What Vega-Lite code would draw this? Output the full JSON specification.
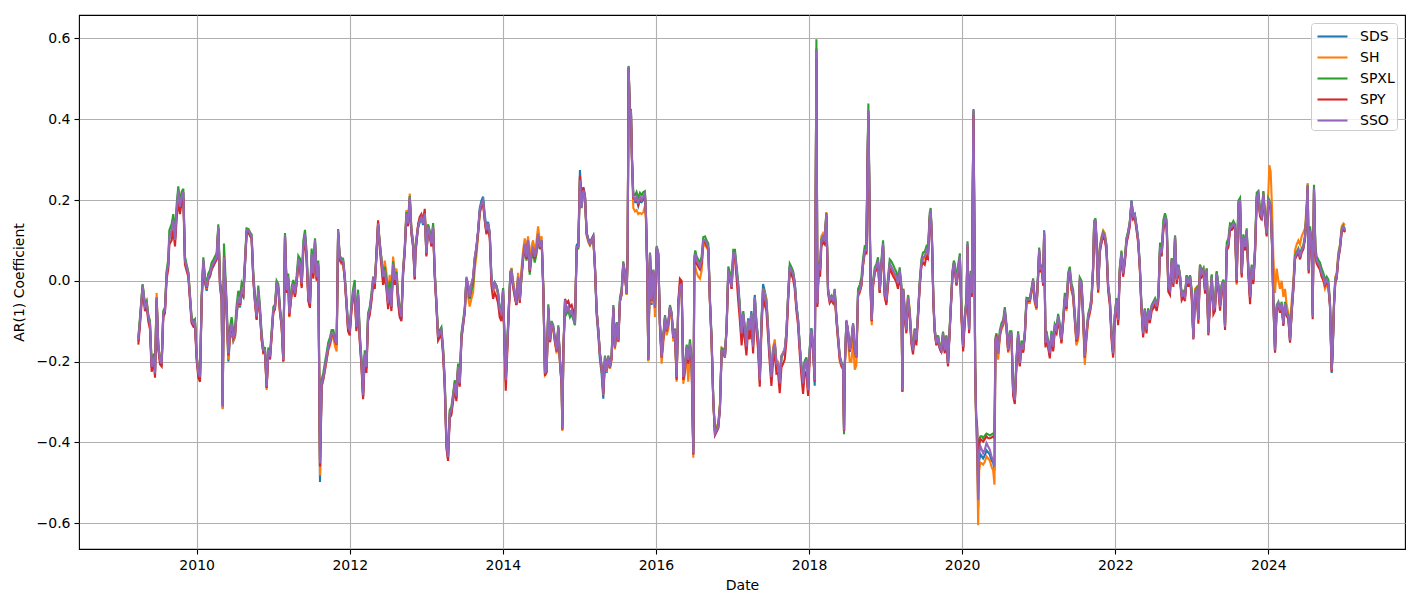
{
  "$schema": "https://vega.github.io/schema/vega-lite/v6.json",
  "width": 1326,
  "height": 534,
  "autosize": {"type": "none"},
  "padding": {"left": 79, "top": 15, "right": 15, "bottom": 60},
  "background": "#ffffff",
  "config": {
    "font": "DejaVu Sans",
    "view": {"stroke": "#000000", "strokeWidth": 1.1},
    "axis": {
      "labelFont": "DejaVu Sans", "labelFontSize": 14, "labelColor": "#000000",
      "titleFont": "DejaVu Sans", "titleFontSize": 14, "titleColor": "#000000", "titleFontWeight": "normal",
      "tickColor": "#000000", "tickSize": 5, "tickWidth": 1.1,
      "gridColor": "#b0b0b0", "gridWidth": 1.1, "domain": false, "labelPadding": 4
    },
    "legend": {
      "labelFont": "DejaVu Sans", "labelFontSize": 14, "labelColor": "#000000",
      "strokeColor": "#cccccc", "fillColor": "rgba(255,255,255,0.8)", "cornerRadius": 3,
      "padding": 2, "offset": 8, "symbolType": "M-1.5,0L1.5,0", "symbolSize": 400,
      "symbolStrokeWidth": 2.1, "symbolOffset": 8, "labelOffset": 16, "rowPadding": 2
    }
  },
  "data": {"values": [
{"t":2009.238,"SDS":-0.15,"SH":-0.145,"SPXL":-0.14,"SPY":-0.158,"SSO":-0.147},
{"t":2009.26,"SDS":-0.1,"SH":-0.095,"SPXL":-0.09,"SPY":-0.11,"SSO":-0.097},
{"t":2009.294,"SDS":-0.013,"SH":-0.01,"SPXL":-0.008,"SPY":-0.02,"SSO":-0.011},
{"t":2009.325,"SDS":-0.066,"SH":-0.06,"SPXL":-0.058,"SPY":-0.075,"SSO":-0.064},
{"t":2009.347,"SDS":-0.058,"SH":-0.05,"SPXL":-0.05,"SPY":-0.065,"SSO":-0.056},
{"t":2009.368,"SDS":-0.09,"SH":-0.085,"SPXL":-0.084,"SPY":-0.1,"SSO":-0.089},
{"t":2009.39,"SDS":-0.11,"SH":-0.1,"SPXL":-0.1,"SPY":-0.12,"SSO":-0.106},
{"t":2009.412,"SDS":-0.215,"SH":-0.21,"SPXL":-0.205,"SPY":-0.225,"SSO":-0.213},
{"t":2009.442,"SDS":-0.19,"SH":-0.185,"SPXL":-0.18,"SPY":-0.2,"SSO":-0.188},
{"t":2009.456,"SDS":-0.23,"SH":-0.225,"SPXL":-0.222,"SPY":-0.24,"SSO":-0.229},
{"t":2009.477,"SDS":-0.045,"SH":-0.03,"SPXL":-0.042,"SPY":-0.05,"SSO":-0.04},
{"t":2009.499,"SDS":-0.165,"SH":-0.158,"SPXL":-0.16,"SPY":-0.17,"SSO":-0.163},
{"t":2009.521,"SDS":-0.198,"SH":-0.19,"SPXL":-0.195,"SPY":-0.207,"SSO":-0.196},
{"t":2009.543,"SDS":-0.207,"SH":-0.2,"SPXL":-0.203,"SPY":-0.212,"SSO":-0.205},
{"t":2009.564,"SDS":-0.083,"SH":-0.08,"SPXL":-0.075,"SPY":-0.09,"SSO":-0.081},
{"t":2009.586,"SDS":-0.075,"SH":-0.07,"SPXL":-0.065,"SPY":-0.08,"SSO":-0.073},
{"t":2009.608,"SDS":0.015,"SH":0.02,"SPXL":0.025,"SPY":0.005,"SSO":0.018},
{"t":2009.63,"SDS":0.04,"SH":0.045,"SPXL":0.055,"SPY":0.03,"SSO":0.043},
{"t":2009.643,"SDS":0.105,"SH":0.11,"SPXL":0.125,"SPY":0.09,"SSO":0.109},
{"t":2009.673,"SDS":0.12,"SH":0.125,"SPXL":0.14,"SPY":0.1,"SSO":0.125},
{"t":2009.695,"SDS":0.145,"SH":0.15,"SPXL":0.165,"SPY":0.125,"SSO":0.15},
{"t":2009.717,"SDS":0.1,"SH":0.105,"SPXL":0.115,"SPY":0.085,"SSO":0.101},
{"t":2009.739,"SDS":0.17,"SH":0.175,"SPXL":0.19,"SPY":0.155,"SSO":0.175},
{"t":2009.76,"SDS":0.22,"SH":0.225,"SPXL":0.234,"SPY":0.2,"SSO":0.224},
{"t":2009.782,"SDS":0.18,"SH":0.185,"SPXL":0.195,"SPY":0.165,"SSO":0.183},
{"t":2009.804,"SDS":0.205,"SH":0.21,"SPXL":0.22,"SPY":0.195,"SSO":0.208},
{"t":2009.826,"SDS":0.215,"SH":0.22,"SPXL":0.228,"SPY":0.205,"SSO":0.22},
{"t":2009.847,"SDS":0.05,"SH":0.055,"SPXL":0.06,"SPY":0.04,"SSO":0.051},
{"t":2009.869,"SDS":0.033,"SH":0.038,"SPXL":0.04,"SPY":0.025,"SSO":0.035},
{"t":2009.891,"SDS":0.015,"SH":0.02,"SPXL":0.022,"SPY":0.01,"SSO":0.018},
{"t":2009.913,"SDS":-0.042,"SH":-0.038,"SPXL":-0.035,"SPY":-0.05,"SSO":-0.04},
{"t":2009.934,"SDS":-0.1,"SH":-0.095,"SPXL":-0.09,"SPY":-0.105,"SSO":-0.097},
{"t":2009.956,"SDS":-0.108,"SH":-0.104,"SPXL":-0.1,"SPY":-0.113,"SSO":-0.106},
{"t":2009.978,"SDS":-0.103,"SH":-0.1,"SPXL":-0.095,"SPY":-0.11,"SSO":-0.101},
{"t":2010.0,"SDS":-0.19,"SH":-0.186,"SPXL":-0.183,"SPY":-0.198,"SSO":-0.188},
{"t":2010.022,"SDS":-0.23,"SH":-0.227,"SPXL":-0.225,"SPY":-0.24,"SSO":-0.229},
{"t":2010.044,"SDS":-0.24,"SH":-0.236,"SPXL":-0.234,"SPY":-0.25,"SSO":-0.238},
{"t":2010.065,"SDS":-0.05,"SH":-0.046,"SPXL":-0.04,"SPY":-0.055,"SSO":-0.048},
{"t":2010.087,"SDS":0.048,"SH":0.05,"SPXL":0.058,"SPY":0.045,"SSO":0.051},
{"t":2010.109,"SDS":-0.005,"SH":0.0,"SPXL":0.01,"SPY":-0.003,"SSO":0.002},
{"t":2010.131,"SDS":-0.025,"SH":-0.02,"SPXL":-0.005,"SPY":-0.018,"SSO":-0.015},
{"t":2010.152,"SDS":0.003,"SH":0.005,"SPXL":0.018,"SPY":0.006,"SSO":0.01},
{"t":2010.174,"SDS":0.01,"SH":0.014,"SPXL":0.026,"SPY":0.014,"SSO":0.018},
{"t":2010.196,"SDS":0.028,"SH":0.03,"SPXL":0.045,"SPY":0.03,"SSO":0.035},
{"t":2010.218,"SDS":0.036,"SH":0.04,"SPXL":0.052,"SPY":0.038,"SSO":0.043},
{"t":2010.239,"SDS":0.045,"SH":0.048,"SPXL":0.06,"SPY":0.045,"SSO":0.051},
{"t":2010.261,"SDS":0.052,"SH":0.055,"SPXL":0.068,"SPY":0.054,"SSO":0.059},
{"t":2010.283,"SDS":0.13,"SH":0.132,"SPXL":0.14,"SPY":0.128,"SSO":0.134},
{"t":2010.305,"SDS":-0.015,"SH":-0.012,"SPXL":0.005,"SPY":-0.01,"SSO":-0.007},
{"t":2010.327,"SDS":-0.05,"SH":-0.045,"SPXL":-0.03,"SPY":-0.043,"SSO":-0.04},
{"t":2010.34,"SDS":-0.316,"SH":-0.318,"SPXL":-0.305,"SPY":-0.31,"SSO":-0.312},
{"t":2010.357,"SDS":0.05,"SH":0.052,"SPXL":0.092,"SPY":0.06,"SSO":0.059},
{"t":2010.383,"SDS":-0.04,"SH":-0.038,"SPXL":-0.015,"SPY":-0.033,"SSO":-0.031},
{"t":2010.414,"SDS":-0.2,"SH":-0.195,"SPXL":-0.17,"SPY":-0.185,"SSO":-0.18},
{"t":2010.435,"SDS":-0.145,"SH":-0.14,"SPXL":-0.115,"SPY":-0.133,"SSO":-0.13},
{"t":2010.457,"SDS":-0.12,"SH":-0.115,"SPXL":-0.09,"SPY":-0.11,"SSO":-0.106},
{"t":2010.479,"SDS":-0.15,"SH":-0.147,"SPXL":-0.125,"SPY":-0.142,"SSO":-0.139},
{"t":2010.501,"SDS":-0.14,"SH":-0.138,"SPXL":-0.115,"SPY":-0.133,"SSO":-0.13},
{"t":2010.522,"SDS":-0.085,"SH":-0.08,"SPXL":-0.06,"SPY":-0.077,"SSO":-0.073},
{"t":2010.544,"SDS":-0.05,"SH":-0.047,"SPXL":-0.025,"SPY":-0.043,"SSO":-0.04},
{"t":2010.566,"SDS":-0.066,"SH":-0.062,"SPXL":-0.04,"SPY":-0.06,"SSO":-0.056},
{"t":2010.588,"SDS":-0.032,"SH":-0.03,"SPXL":-0.005,"SPY":-0.027,"SSO":-0.023},
{"t":2010.61,"SDS":-0.04,"SH":-0.036,"SPXL":-0.015,"SPY":-0.035,"SSO":-0.031},
{"t":2010.631,"SDS":0.035,"SH":0.04,"SPXL":0.055,"SPY":0.04,"SSO":0.043},
{"t":2010.653,"SDS":0.12,"SH":0.128,"SPXL":0.13,"SPY":0.12,"SSO":0.125},
{"t":2010.675,"SDS":0.12,"SH":0.128,"SPXL":0.128,"SPY":0.12,"SSO":0.125},
{"t":2010.697,"SDS":0.112,"SH":0.12,"SPXL":0.12,"SPY":0.112,"SSO":0.117},
{"t":2010.718,"SDS":0.105,"SH":0.11,"SPXL":0.115,"SPY":0.103,"SSO":0.109},
{"t":2010.74,"SDS":0.005,"SH":0.01,"SPXL":0.02,"SPY":0.003,"SSO":0.01},
{"t":2010.762,"SDS":-0.052,"SH":-0.05,"SPXL":-0.035,"SPY":-0.055,"SSO":-0.048},
{"t":2010.784,"SDS":-0.095,"SH":-0.093,"SPXL":-0.08,"SPY":-0.097,"SSO":-0.089},
{"t":2010.805,"SDS":-0.028,"SH":-0.025,"SPXL":-0.012,"SPY":-0.03,"SSO":-0.023},
{"t":2010.827,"SDS":-0.078,"SH":-0.076,"SPXL":-0.063,"SPY":-0.082,"SSO":-0.073},
{"t":2010.849,"SDS":-0.145,"SH":-0.142,"SPXL":-0.13,"SPY":-0.147,"SSO":-0.139},
{"t":2010.871,"SDS":-0.177,"SH":-0.18,"SPXL":-0.165,"SPY":-0.178,"SSO":-0.172},
{"t":2010.893,"SDS":-0.176,"SH":-0.178,"SPXL":-0.166,"SPY":-0.178,"SSO":-0.172},
{"t":2010.914,"SDS":-0.265,"SH":-0.27,"SPXL":-0.255,"SPY":-0.265,"SSO":-0.262},
{"t":2010.936,"SDS":-0.175,"SH":-0.178,"SPXL":-0.165,"SPY":-0.178,"SSO":-0.172},
{"t":2010.958,"SDS":-0.19,"SH":-0.195,"SPXL":-0.18,"SPY":-0.194,"SSO":-0.188},
{"t":2010.98,"SDS":-0.133,"SH":-0.135,"SPXL":-0.122,"SPY":-0.137,"SSO":-0.13},
{"t":2011.001,"SDS":-0.076,"SH":-0.078,"SPXL":-0.065,"SPY":-0.08,"SSO":-0.073},
{"t":2011.023,"SDS":-0.067,"SH":-0.07,"SPXL":-0.058,"SPY":-0.07,"SSO":-0.064},
{"t":2011.045,"SDS":-0.01,"SH":-0.012,"SPXL":0.0,"SPY":-0.013,"SSO":-0.007},
{"t":2011.067,"SDS":-0.018,"SH":-0.02,"SPXL":-0.008,"SPY":-0.022,"SSO":-0.015},
{"t":2011.089,"SDS":-0.076,"SH":-0.08,"SPXL":-0.066,"SPY":-0.08,"SSO":-0.073},
{"t":2011.11,"SDS":-0.11,"SH":-0.112,"SPXL":-0.1,"SPY":-0.113,"SSO":-0.106},
{"t":2011.132,"SDS":-0.198,"SH":-0.2,"SPXL":-0.19,"SPY":-0.2,"SSO":-0.196},
{"t":2011.154,"SDS":0.11,"SH":0.108,"SPXL":0.118,"SPY":0.11,"SSO":0.113},
{"t":2011.176,"SDS":-0.027,"SH":-0.03,"SPXL":-0.015,"SPY":-0.03,"SSO":-0.023},
{"t":2011.197,"SDS":0.006,"SH":0.003,"SPXL":0.018,"SPY":0.003,"SSO":0.01},
{"t":2011.21,"SDS":-0.085,"SH":-0.09,"SPXL":-0.072,"SPY":-0.088,"SSO":-0.081},
{"t":2011.241,"SDS":-0.027,"SH":-0.03,"SPXL":-0.014,"SPY":-0.032,"SSO":-0.023},
{"t":2011.263,"SDS":-0.011,"SH":-0.015,"SPXL":0.002,"SPY":-0.016,"SSO":-0.007},
{"t":2011.284,"SDS":-0.035,"SH":-0.04,"SPXL":-0.022,"SPY":-0.04,"SSO":-0.031},
{"t":2011.306,"SDS":-0.002,"SH":-0.005,"SPXL":0.012,"SPY":-0.007,"SSO":0.002},
{"t":2011.328,"SDS":0.047,"SH":0.045,"SPXL":0.062,"SPY":0.04,"SSO":0.051},
{"t":2011.35,"SDS":0.04,"SH":0.036,"SPXL":0.055,"SPY":0.033,"SSO":0.043},
{"t":2011.372,"SDS":-0.01,"SH":-0.014,"SPXL":0.005,"SPY":-0.018,"SSO":-0.007},
{"t":2011.393,"SDS":0.08,"SH":0.078,"SPXL":0.098,"SPY":0.073,"SSO":0.084},
{"t":2011.415,"SDS":0.113,"SH":0.11,"SPXL":0.126,"SPY":0.105,"SSO":0.117},
{"t":2011.437,"SDS":0.055,"SH":0.052,"SPXL":0.072,"SPY":0.047,"SSO":0.059},
{"t":2011.459,"SDS":-0.044,"SH":-0.048,"SPXL":-0.028,"SPY":-0.05,"SSO":-0.04},
{"t":2011.48,"SDS":-0.06,"SH":-0.065,"SPXL":-0.045,"SPY":-0.067,"SSO":-0.056},
{"t":2011.502,"SDS":0.064,"SH":0.06,"SPXL":0.08,"SPY":0.055,"SSO":0.068},
{"t":2011.524,"SDS":0.014,"SH":0.01,"SPXL":0.03,"SPY":0.005,"SSO":0.018},
{"t":2011.546,"SDS":0.097,"SH":0.093,"SPXL":0.105,"SPY":0.09,"SSO":0.101},
{"t":2011.567,"SDS":0.006,"SH":0.003,"SPXL":0.02,"SPY":0.0,"SSO":0.01},
{"t":2011.589,"SDS":0.04,"SH":0.036,"SPXL":0.05,"SPY":0.035,"SSO":0.043},
{"t":2011.611,"SDS":-0.498,"SH":-0.482,"SPXL":-0.44,"SPY":-0.46,"SSO":-0.452},
{"t":2011.633,"SDS":-0.262,"SH":-0.26,"SPXL":-0.245,"SPY":-0.258,"SSO":-0.254},
{"t":2011.654,"SDS":-0.245,"SH":-0.243,"SPXL":-0.228,"SPY":-0.242,"SSO":-0.238},
{"t":2011.676,"SDS":-0.22,"SH":-0.222,"SPXL":-0.203,"SPY":-0.217,"SSO":-0.213},
{"t":2011.698,"SDS":-0.194,"SH":-0.197,"SPXL":-0.178,"SPY":-0.192,"SSO":-0.188},
{"t":2011.72,"SDS":-0.168,"SH":-0.172,"SPXL":-0.152,"SPY":-0.167,"SSO":-0.163},
{"t":2011.742,"SDS":-0.156,"SH":-0.16,"SPXL":-0.14,"SPY":-0.155,"SSO":-0.151},
{"t":2011.763,"SDS":-0.135,"SH":-0.14,"SPXL":-0.122,"SPY":-0.134,"SSO":-0.13},
{"t":2011.785,"SDS":-0.135,"SH":-0.142,"SPXL":-0.122,"SPY":-0.134,"SSO":-0.13},
{"t":2011.807,"SDS":-0.152,"SH":-0.162,"SPXL":-0.14,"SPY":-0.15,"SSO":-0.147},
{"t":2011.829,"SDS":-0.16,"SH":-0.175,"SPXL":-0.148,"SPY":-0.158,"SSO":-0.155},
{"t":2011.848,"SDS":0.12,"SH":0.12,"SPXL":0.128,"SPY":0.118,"SSO":0.125},
{"t":2011.869,"SDS":0.055,"SH":0.05,"SPXL":0.062,"SPY":0.052,"SSO":0.059},
{"t":2011.891,"SDS":0.047,"SH":0.042,"SPXL":0.056,"SPY":0.045,"SSO":0.051},
{"t":2011.913,"SDS":0.047,"SH":0.045,"SPXL":0.055,"SPY":0.044,"SSO":0.051},
{"t":2011.935,"SDS":0.005,"SH":0.003,"SPXL":0.014,"SPY":0.002,"SSO":0.01},
{"t":2011.956,"SDS":-0.052,"SH":-0.055,"SPXL":-0.042,"SPY":-0.058,"SSO":-0.048},
{"t":2011.978,"SDS":-0.118,"SH":-0.12,"SPXL":-0.108,"SPY":-0.125,"SSO":-0.114},
{"t":2012.0,"SDS":-0.126,"SH":-0.128,"SPXL":-0.115,"SPY":-0.135,"SSO":-0.122},
{"t":2012.022,"SDS":-0.068,"SH":-0.07,"SPXL":-0.055,"SPY":-0.075,"SSO":-0.064},
{"t":2012.044,"SDS":-0.035,"SH":-0.037,"SPXL":-0.02,"SPY":-0.042,"SSO":-0.031},
{"t":2012.065,"SDS":-0.02,"SH":-0.022,"SPXL":0.002,"SPY":-0.025,"SSO":-0.015},
{"t":2012.087,"SDS":-0.118,"SH":-0.12,"SPXL":-0.105,"SPY":-0.125,"SSO":-0.114},
{"t":2012.109,"SDS":-0.036,"SH":-0.038,"SPXL":-0.022,"SPY":-0.045,"SSO":-0.031},
{"t":2012.131,"SDS":-0.143,"SH":-0.145,"SPXL":-0.13,"SPY":-0.152,"SSO":-0.139},
{"t":2012.152,"SDS":-0.2,"SH":-0.202,"SPXL":-0.188,"SPY":-0.21,"SSO":-0.196},
{"t":2012.174,"SDS":-0.287,"SH":-0.285,"SPXL":-0.275,"SPY":-0.293,"SSO":-0.283},
{"t":2012.196,"SDS":-0.185,"SH":-0.183,"SPXL":-0.172,"SPY":-0.195,"SSO":-0.18},
{"t":2012.218,"SDS":-0.217,"SH":-0.215,"SPXL":-0.205,"SPY":-0.228,"SSO":-0.213},
{"t":2012.239,"SDS":-0.093,"SH":-0.09,"SPXL":-0.08,"SPY":-0.1,"SSO":-0.089},
{"t":2012.261,"SDS":-0.077,"SH":-0.074,"SPXL":-0.065,"SPY":-0.085,"SSO":-0.073},
{"t":2012.283,"SDS":-0.044,"SH":-0.04,"SPXL":-0.032,"SPY":-0.052,"SSO":-0.04},
{"t":2012.305,"SDS":-0.002,"SH":0.003,"SPXL":0.01,"SPY":-0.01,"SSO":0.002},
{"t":2012.327,"SDS":-0.011,"SH":-0.005,"SPXL":0.0,"SPY":-0.02,"SSO":-0.007},
{"t":2012.348,"SDS":0.055,"SH":0.06,"SPXL":0.065,"SPY":0.07,"SSO":0.059},
{"t":2012.37,"SDS":0.138,"SH":0.145,"SPXL":0.14,"SPY":0.15,"SSO":0.142},
{"t":2012.392,"SDS":0.088,"SH":0.095,"SPXL":0.095,"SPY":0.08,"SSO":0.092},
{"t":2012.414,"SDS":0.047,"SH":0.055,"SPXL":0.055,"SPY":0.035,"SSO":0.051},
{"t":2012.435,"SDS":0.006,"SH":0.015,"SPXL":0.015,"SPY":-0.01,"SSO":0.01},
{"t":2012.457,"SDS":0.022,"SH":0.05,"SPXL":0.035,"SPY":0.01,"SSO":0.026},
{"t":2012.479,"SDS":-0.011,"SH":0.02,"SPXL":0.005,"SPY":-0.02,"SSO":-0.007},
{"t":2012.501,"SDS":-0.06,"SH":-0.03,"SPXL":-0.04,"SPY":-0.07,"SSO":-0.056},
{"t":2012.522,"SDS":-0.02,"SH":0.015,"SPXL":0.0,"SPY":-0.03,"SSO":-0.015},
{"t":2012.544,"SDS":-0.068,"SH":-0.04,"SPXL":-0.055,"SPY":-0.075,"SSO":-0.064},
{"t":2012.566,"SDS":0.04,"SH":0.06,"SPXL":0.048,"SPY":0.03,"SSO":0.043},
{"t":2012.588,"SDS":-0.002,"SH":0.02,"SPXL":0.008,"SPY":-0.01,"SSO":0.002},
{"t":2012.61,"SDS":0.014,"SH":0.03,"SPXL":0.022,"SPY":0.005,"SSO":0.018},
{"t":2012.631,"SDS":-0.045,"SH":-0.03,"SPXL":-0.033,"SPY":-0.055,"SSO":-0.04},
{"t":2012.653,"SDS":-0.085,"SH":-0.065,"SPXL":-0.067,"SPY":-0.09,"SSO":-0.073},
{"t":2012.675,"SDS":-0.095,"SH":-0.08,"SPXL":-0.083,"SPY":-0.1,"SSO":-0.089},
{"t":2012.697,"SDS":0.015,"SH":0.03,"SPXL":0.03,"SPY":0.02,"SSO":0.026},
{"t":2012.718,"SDS":0.07,"SH":0.08,"SPXL":0.08,"SPY":0.07,"SSO":0.076},
{"t":2012.74,"SDS":0.162,"SH":0.175,"SPXL":0.17,"SPY":0.16,"SSO":0.167},
{"t":2012.762,"SDS":0.138,"SH":0.15,"SPXL":0.145,"SPY":0.135,"SSO":0.142},
{"t":2012.784,"SDS":0.205,"SH":0.216,"SPXL":0.21,"SPY":0.2,"SSO":0.208},
{"t":2012.805,"SDS":0.12,"SH":0.13,"SPXL":0.128,"SPY":0.118,"SSO":0.125},
{"t":2012.827,"SDS":0.085,"SH":0.1,"SPXL":0.095,"SPY":0.085,"SSO":0.092},
{"t":2012.849,"SDS":0.005,"SH":0.015,"SPXL":0.014,"SPY":0.003,"SSO":0.01},
{"t":2012.858,"SDS":0.07,"SH":0.08,"SPXL":0.08,"SPY":0.07,"SSO":0.076},
{"t":2012.871,"SDS":0.097,"SH":0.105,"SPXL":0.105,"SPY":0.09,"SSO":0.101},
{"t":2012.893,"SDS":0.13,"SH":0.138,"SPXL":0.136,"SPY":0.14,"SSO":0.134},
{"t":2012.914,"SDS":0.145,"SH":0.152,"SPXL":0.152,"SPY":0.158,"SSO":0.15},
{"t":2012.936,"SDS":0.153,"SH":0.16,"SPXL":0.16,"SPY":0.165,"SSO":0.158},
{"t":2012.958,"SDS":0.138,"SH":0.145,"SPXL":0.146,"SPY":0.15,"SSO":0.142},
{"t":2012.98,"SDS":0.162,"SH":0.17,"SPXL":0.17,"SPY":0.178,"SSO":0.167},
{"t":2013.001,"SDS":0.064,"SH":0.07,"SPXL":0.075,"SPY":0.06,"SSO":0.068},
{"t":2013.023,"SDS":0.13,"SH":0.137,"SPXL":0.14,"SPY":0.128,"SSO":0.134},
{"t":2013.045,"SDS":0.113,"SH":0.12,"SPXL":0.124,"SPY":0.11,"SSO":0.117},
{"t":2013.067,"SDS":0.088,"SH":0.095,"SPXL":0.1,"SPY":0.085,"SSO":0.092},
{"t":2013.089,"SDS":0.13,"SH":0.136,"SPXL":0.143,"SPY":0.128,"SSO":0.134},
{"t":2013.11,"SDS":0.014,"SH":0.02,"SPXL":0.026,"SPY":0.01,"SSO":0.018},
{"t":2013.132,"SDS":-0.06,"SH":-0.055,"SPXL":-0.048,"SPY":-0.064,"SSO":-0.056},
{"t":2013.154,"SDS":-0.143,"SH":-0.138,"SPXL":-0.13,"SPY":-0.148,"SSO":-0.139},
{"t":2013.176,"SDS":-0.134,"SH":-0.13,"SPXL":-0.122,"SPY":-0.14,"SSO":-0.13},
{"t":2013.197,"SDS":-0.126,"SH":-0.12,"SPXL":-0.115,"SPY":-0.132,"SSO":-0.122},
{"t":2013.219,"SDS":-0.176,"SH":-0.17,"SPXL":-0.165,"SPY":-0.182,"SSO":-0.172},
{"t":2013.241,"SDS":-0.258,"SH":-0.25,"SPXL":-0.245,"SPY":-0.265,"SSO":-0.254},
{"t":2013.263,"SDS":-0.407,"SH":-0.4,"SPXL":-0.395,"SPY":-0.415,"SSO":-0.403},
{"t":2013.284,"SDS":-0.44,"SH":-0.433,"SPXL":-0.43,"SPY":-0.446,"SSO":-0.436},
{"t":2013.306,"SDS":-0.332,"SH":-0.325,"SPXL":-0.32,"SPY":-0.34,"SSO":-0.328},
{"t":2013.328,"SDS":-0.324,"SH":-0.316,"SPXL":-0.312,"SPY":-0.332,"SSO":-0.32},
{"t":2013.35,"SDS":-0.29,"SH":-0.283,"SPXL":-0.28,"SPY":-0.298,"SSO":-0.287},
{"t":2013.372,"SDS":-0.258,"SH":-0.25,"SPXL":-0.246,"SPY":-0.266,"SSO":-0.254},
{"t":2013.393,"SDS":-0.29,"SH":-0.283,"SPXL":-0.28,"SPY":-0.298,"SSO":-0.287},
{"t":2013.415,"SDS":-0.217,"SH":-0.21,"SPXL":-0.205,"SPY":-0.22,"SSO":-0.213},
{"t":2013.437,"SDS":-0.258,"SH":-0.25,"SPXL":-0.246,"SPY":-0.262,"SSO":-0.254},
{"t":2013.459,"SDS":-0.143,"SH":-0.135,"SPXL":-0.13,"SPY":-0.145,"SSO":-0.139},
{"t":2013.48,"SDS":-0.11,"SH":-0.1,"SPXL":-0.1,"SPY":-0.112,"SSO":-0.106},
{"t":2013.502,"SDS":-0.077,"SH":-0.08,"SPXL":-0.068,"SPY":-0.078,"SSO":-0.073},
{"t":2013.524,"SDS":0.005,"SH":-0.01,"SPXL":0.005,"SPY":0.005,"SSO":0.01},
{"t":2013.546,"SDS":-0.012,"SH":-0.04,"SPXL":-0.02,"SPY":-0.01,"SSO":-0.007},
{"t":2013.567,"SDS":-0.045,"SH":-0.064,"SPXL":-0.045,"SPY":-0.042,"SSO":-0.04},
{"t":2013.589,"SDS":-0.012,"SH":-0.045,"SPXL":-0.025,"SPY":-0.01,"SSO":-0.007},
{"t":2013.611,"SDS":0.005,"SH":-0.03,"SPXL":-0.01,"SPY":0.006,"SSO":0.01},
{"t":2013.633,"SDS":0.055,"SH":0.03,"SPXL":0.045,"SPY":0.055,"SSO":0.059},
{"t":2013.654,"SDS":0.08,"SH":0.06,"SPXL":0.075,"SPY":0.08,"SSO":0.084},
{"t":2013.676,"SDS":0.12,"SH":0.11,"SPXL":0.12,"SPY":0.12,"SSO":0.125},
{"t":2013.698,"SDS":0.18,"SH":0.165,"SPXL":0.172,"SPY":0.17,"SSO":0.175},
{"t":2013.72,"SDS":0.198,"SH":0.185,"SPXL":0.19,"SPY":0.185,"SSO":0.191},
{"t":2013.742,"SDS":0.208,"SH":0.195,"SPXL":0.2,"SPY":0.19,"SSO":0.2},
{"t":2013.763,"SDS":0.165,"SH":0.15,"SPXL":0.155,"SPY":0.15,"SSO":0.158},
{"t":2013.785,"SDS":0.13,"SH":0.12,"SPXL":0.122,"SPY":0.115,"SSO":0.125},
{"t":2013.807,"SDS":0.146,"SH":0.138,"SPXL":0.14,"SPY":0.13,"SSO":0.142},
{"t":2013.829,"SDS":0.12,"SH":0.112,"SPXL":0.115,"SPY":0.105,"SSO":0.117},
{"t":2013.85,"SDS":0.012,"SH":0.005,"SPXL":0.01,"SPY":-0.01,"SSO":0.01},
{"t":2013.872,"SDS":-0.02,"SH":-0.028,"SPXL":-0.02,"SPY":-0.045,"SSO":-0.023},
{"t":2013.894,"SDS":-0.004,"SH":-0.012,"SPXL":-0.005,"SPY":-0.03,"SSO":-0.007},
{"t":2013.916,"SDS":-0.012,"SH":-0.02,"SPXL":-0.012,"SPY":-0.04,"SSO":-0.015},
{"t":2013.937,"SDS":-0.028,"SH":-0.036,"SPXL":-0.03,"SPY":-0.055,"SSO":-0.031},
{"t":2013.959,"SDS":-0.07,"SH":-0.078,"SPXL":-0.07,"SPY":-0.09,"SSO":-0.073},
{"t":2013.981,"SDS":-0.078,"SH":-0.085,"SPXL":-0.075,"SPY":-0.1,"SSO":-0.081},
{"t":2014.003,"SDS":-0.02,"SH":-0.028,"SPXL":-0.018,"SPY":-0.035,"SSO":-0.023},
{"t":2014.025,"SDS":-0.17,"SH":-0.176,"SPXL":-0.165,"SPY":-0.19,"SSO":-0.172},
{"t":2014.038,"SDS":-0.244,"SH":-0.25,"SPXL":-0.24,"SPY":-0.272,"SSO":-0.246},
{"t":2014.059,"SDS":-0.152,"SH":-0.16,"SPXL":-0.148,"SPY":-0.17,"SSO":-0.155},
{"t":2014.077,"SDS":-0.07,"SH":-0.075,"SPXL":-0.065,"SPY":-0.085,"SSO":-0.073},
{"t":2014.099,"SDS":0.022,"SH":0.02,"SPXL":0.022,"SPY":0.01,"SSO":0.018},
{"t":2014.112,"SDS":0.03,"SH":0.032,"SPXL":0.025,"SPY":0.018,"SSO":0.026},
{"t":2014.133,"SDS":-0.003,"SH":0.0,"SPXL":-0.01,"SPY":-0.015,"SSO":-0.007},
{"t":2014.155,"SDS":-0.027,"SH":-0.025,"SPXL":-0.035,"SPY":-0.04,"SSO":-0.031},
{"t":2014.177,"SDS":-0.06,"SH":-0.05,"SPXL":-0.058,"SPY":-0.06,"SSO":-0.056},
{"t":2014.199,"SDS":0.014,"SH":0.02,"SPXL":0.005,"SPY":0.005,"SSO":0.01},
{"t":2014.221,"SDS":-0.044,"SH":-0.04,"SPXL":-0.05,"SPY":-0.055,"SSO":-0.048},
{"t":2014.242,"SDS":0.014,"SH":0.025,"SPXL":0.005,"SPY":0.005,"SSO":0.01},
{"t":2014.264,"SDS":0.063,"SH":0.075,"SPXL":0.05,"SPY":0.055,"SSO":0.059},
{"t":2014.286,"SDS":0.095,"SH":0.105,"SPXL":0.085,"SPY":0.088,"SSO":0.092},
{"t":2014.308,"SDS":0.063,"SH":0.075,"SPXL":0.05,"SPY":0.055,"SSO":0.059},
{"t":2014.329,"SDS":0.105,"SH":0.11,"SPXL":0.09,"SPY":0.098,"SSO":0.101},
{"t":2014.351,"SDS":0.03,"SH":0.04,"SPXL":0.015,"SPY":0.022,"SSO":0.026},
{"t":2014.373,"SDS":0.072,"SH":0.085,"SPXL":0.055,"SPY":0.063,"SSO":0.068},
{"t":2014.395,"SDS":0.088,"SH":0.1,"SPXL":0.07,"SPY":0.08,"SSO":0.084},
{"t":2014.416,"SDS":0.063,"SH":0.075,"SPXL":0.045,"SPY":0.055,"SSO":0.059},
{"t":2014.438,"SDS":0.08,"SH":0.095,"SPXL":0.065,"SPY":0.072,"SSO":0.076},
{"t":2014.46,"SDS":0.12,"SH":0.135,"SPXL":0.11,"SPY":0.113,"SSO":0.117},
{"t":2014.482,"SDS":0.088,"SH":0.1,"SPXL":0.078,"SPY":0.08,"SSO":0.084},
{"t":2014.507,"SDS":0.098,"SH":0.11,"SPXL":0.1,"SPY":0.095,"SSO":0.101},
{"t":2014.529,"SDS":-0.026,"SH":-0.02,"SPXL":-0.015,"SPY":-0.03,"SSO":-0.023},
{"t":2014.55,"SDS":-0.232,"SH":-0.233,"SPXL":-0.222,"SPY":-0.235,"SSO":-0.229},
{"t":2014.572,"SDS":-0.224,"SH":-0.226,"SPXL":-0.21,"SPY":-0.226,"SSO":-0.221},
{"t":2014.594,"SDS":-0.068,"SH":-0.07,"SPXL":-0.058,"SPY":-0.07,"SSO":-0.064},
{"t":2014.616,"SDS":-0.15,"SH":-0.152,"SPXL":-0.138,"SPY":-0.152,"SSO":-0.147},
{"t":2014.637,"SDS":-0.11,"SH":-0.112,"SPXL":-0.1,"SPY":-0.11,"SSO":-0.106},
{"t":2014.659,"SDS":-0.118,"SH":-0.12,"SPXL":-0.11,"SPY":-0.118,"SSO":-0.114},
{"t":2014.681,"SDS":-0.15,"SH":-0.155,"SPXL":-0.142,"SPY":-0.15,"SSO":-0.147},
{"t":2014.703,"SDS":-0.175,"SH":-0.18,"SPXL":-0.167,"SPY":-0.175,"SSO":-0.172},
{"t":2014.724,"SDS":-0.118,"SH":-0.12,"SPXL":-0.11,"SPY":-0.116,"SSO":-0.114},
{"t":2014.746,"SDS":-0.2,"SH":-0.205,"SPXL":-0.192,"SPY":-0.2,"SSO":-0.196},
{"t":2014.768,"SDS":-0.257,"SH":-0.262,"SPXL":-0.25,"SPY":-0.257,"SSO":-0.254},
{"t":2014.777,"SDS":-0.368,"SH":-0.372,"SPXL":-0.36,"SPY":-0.368,"SSO":-0.366},
{"t":2014.79,"SDS":-0.183,"SH":-0.185,"SPXL":-0.175,"SPY":-0.17,"SSO":-0.18},
{"t":2014.812,"SDS":-0.05,"SH":-0.052,"SPXL":-0.06,"SPY":-0.045,"SSO":-0.048},
{"t":2014.833,"SDS":-0.075,"SH":-0.075,"SPXL":-0.082,"SPY":-0.055,"SSO":-0.073},
{"t":2014.855,"SDS":-0.066,"SH":-0.066,"SPXL":-0.075,"SPY":-0.05,"SSO":-0.064},
{"t":2014.877,"SDS":-0.083,"SH":-0.083,"SPXL":-0.09,"SPY":-0.065,"SSO":-0.081},
{"t":2014.899,"SDS":-0.075,"SH":-0.075,"SPXL":-0.082,"SPY":-0.06,"SSO":-0.073},
{"t":2014.92,"SDS":-0.091,"SH":-0.09,"SPXL":-0.095,"SPY":-0.075,"SSO":-0.089},
{"t":2014.942,"SDS":-0.108,"SH":-0.105,"SPXL":-0.11,"SPY":-0.1,"SSO":-0.106},
{"t":2014.964,"SDS":0.088,"SH":0.082,"SPXL":0.078,"SPY":0.08,"SSO":0.084},
{"t":2014.986,"SDS":0.095,"SH":0.085,"SPXL":0.08,"SPY":0.085,"SSO":0.084},
{"t":2015.007,"SDS":0.274,"SH":0.255,"SPXL":0.248,"SPY":0.26,"SSO":0.249},
{"t":2015.029,"SDS":0.19,"SH":0.185,"SPXL":0.18,"SPY":0.205,"SSO":0.183},
{"t":2015.051,"SDS":0.232,"SH":0.226,"SPXL":0.222,"SPY":0.23,"SSO":0.224},
{"t":2015.073,"SDS":0.212,"SH":0.205,"SPXL":0.205,"SPY":0.21,"SSO":0.208},
{"t":2015.094,"SDS":0.12,"SH":0.113,"SPXL":0.115,"SPY":0.118,"SSO":0.117},
{"t":2015.116,"SDS":0.104,"SH":0.095,"SPXL":0.1,"SPY":0.102,"SSO":0.101},
{"t":2015.138,"SDS":0.095,"SH":0.087,"SPXL":0.09,"SPY":0.093,"SSO":0.092},
{"t":2015.16,"SDS":0.104,"SH":0.096,"SPXL":0.1,"SPY":0.102,"SSO":0.101},
{"t":2015.181,"SDS":0.112,"SH":0.104,"SPXL":0.107,"SPY":0.11,"SSO":0.109},
{"t":2015.203,"SDS":0.03,"SH":0.033,"SPXL":0.035,"SPY":0.035,"SSO":0.035},
{"t":2015.225,"SDS":-0.085,"SH":-0.075,"SPXL":-0.072,"SPY":-0.074,"SSO":-0.073},
{"t":2015.247,"SDS":-0.135,"SH":-0.125,"SPXL":-0.12,"SPY":-0.123,"SSO":-0.122},
{"t":2015.268,"SDS":-0.195,"SH":-0.183,"SPXL":-0.177,"SPY":-0.182,"SSO":-0.18},
{"t":2015.29,"SDS":-0.23,"SH":-0.216,"SPXL":-0.21,"SPY":-0.215,"SSO":-0.213},
{"t":2015.312,"SDS":-0.292,"SH":-0.282,"SPXL":-0.275,"SPY":-0.28,"SSO":-0.279},
{"t":2015.334,"SDS":-0.198,"SH":-0.19,"SPXL":-0.185,"SPY":-0.19,"SSO":-0.188},
{"t":2015.356,"SDS":-0.228,"SH":-0.225,"SPXL":-0.218,"SPY":-0.222,"SSO":-0.221},
{"t":2015.377,"SDS":-0.192,"SH":-0.192,"SPXL":-0.185,"SPY":-0.19,"SSO":-0.188},
{"t":2015.399,"SDS":-0.216,"SH":-0.218,"SPXL":-0.21,"SPY":-0.215,"SSO":-0.213},
{"t":2015.421,"SDS":-0.19,"SH":-0.195,"SPXL":-0.185,"SPY":-0.19,"SSO":-0.188},
{"t":2015.443,"SDS":-0.066,"SH":-0.07,"SPXL":-0.06,"SPY":-0.066,"SSO":-0.064},
{"t":2015.464,"SDS":-0.166,"SH":-0.17,"SPXL":-0.16,"SPY":-0.165,"SSO":-0.163},
{"t":2015.486,"SDS":-0.108,"SH":-0.112,"SPXL":-0.102,"SPY":-0.108,"SSO":-0.106},
{"t":2015.508,"SDS":-0.15,"SH":-0.152,"SPXL":-0.143,"SPY":-0.15,"SSO":-0.147},
{"t":2015.53,"SDS":-0.05,"SH":-0.052,"SPXL":-0.04,"SPY":-0.05,"SSO":-0.048},
{"t":2015.551,"SDS":-0.033,"SH":-0.035,"SPXL":-0.022,"SPY":-0.033,"SSO":-0.031},
{"t":2015.573,"SDS":0.041,"SH":0.04,"SPXL":0.048,"SPY":0.042,"SSO":0.043},
{"t":2015.595,"SDS":0.016,"SH":0.015,"SPXL":0.022,"SPY":0.017,"SSO":0.018},
{"t":2015.617,"SDS":-0.033,"SH":-0.035,"SPXL":-0.026,"SPY":-0.032,"SSO":-0.031},
{"t":2015.63,"SDS":0.066,"SH":0.064,"SPXL":0.072,"SPY":0.067,"SSO":0.068},
{"t":2015.643,"SDS":0.528,"SH":0.525,"SPXL":0.532,"SPY":0.528,"SSO":0.53},
{"t":2015.66,"SDS":0.404,"SH":0.4,"SPXL":0.41,"SPY":0.405,"SSO":0.406},
{"t":2015.673,"SDS":0.42,"SH":0.415,"SPXL":0.426,"SPY":0.42,"SSO":0.422},
{"t":2015.687,"SDS":0.296,"SH":0.29,"SPXL":0.305,"SPY":0.3,"SSO":0.299},
{"t":2015.704,"SDS":0.2,"SH":0.18,"SPXL":0.215,"SPY":0.205,"SSO":0.208},
{"t":2015.726,"SDS":0.195,"SH":0.172,"SPXL":0.212,"SPY":0.2,"SSO":0.2},
{"t":2015.747,"SDS":0.2,"SH":0.175,"SPXL":0.22,"SPY":0.205,"SSO":0.208},
{"t":2015.769,"SDS":0.185,"SH":0.165,"SPXL":0.205,"SPY":0.19,"SSO":0.191},
{"t":2015.791,"SDS":0.2,"SH":0.168,"SPXL":0.218,"SPY":0.205,"SSO":0.208},
{"t":2015.813,"SDS":0.195,"SH":0.165,"SPXL":0.212,"SPY":0.2,"SSO":0.2},
{"t":2015.835,"SDS":0.2,"SH":0.17,"SPXL":0.22,"SPY":0.205,"SSO":0.208},
{"t":2015.856,"SDS":0.21,"SH":0.185,"SPXL":0.222,"SPY":0.215,"SSO":0.216},
{"t":2015.869,"SDS":0.162,"SH":0.15,"SPXL":0.17,"SPY":0.165,"SSO":0.167},
{"t":2015.887,"SDS":0.015,"SH":0.005,"SPXL":0.02,"SPY":0.016,"SSO":0.018},
{"t":2015.9,"SDS":-0.198,"SH":-0.2,"SPXL":-0.19,"SPY":-0.195,"SSO":-0.196},
{"t":2015.922,"SDS":0.065,"SH":0.06,"SPXL":0.07,"SPY":0.066,"SSO":0.068},
{"t":2015.943,"SDS":-0.06,"SH":-0.055,"SPXL":-0.045,"SPY":-0.05,"SSO":-0.048},
{"t":2015.965,"SDS":0.02,"SH":0.015,"SPXL":0.028,"SPY":0.024,"SSO":0.026},
{"t":2015.987,"SDS":-0.07,"SH":-0.09,"SPXL":-0.062,"SPY":-0.066,"SSO":-0.064},
{"t":2016.009,"SDS":0.08,"SH":0.078,"SPXL":0.086,"SPY":0.082,"SSO":0.084},
{"t":2016.03,"SDS":0.064,"SH":0.06,"SPXL":0.07,"SPY":0.066,"SSO":0.068},
{"t":2016.052,"SDS":-0.11,"SH":-0.12,"SPXL":-0.103,"SPY":-0.108,"SSO":-0.106},
{"t":2016.074,"SDS":-0.19,"SH":-0.205,"SPXL":-0.185,"SPY":-0.19,"SSO":-0.188},
{"t":2016.096,"SDS":-0.142,"SH":-0.155,"SPXL":-0.136,"SPY":-0.142,"SSO":-0.139},
{"t":2016.118,"SDS":-0.092,"SH":-0.1,"SPXL":-0.085,"SPY":-0.092,"SSO":-0.089},
{"t":2016.139,"SDS":-0.125,"SH":-0.135,"SPXL":-0.118,"SPY":-0.125,"SSO":-0.122},
{"t":2016.161,"SDS":-0.109,"SH":-0.12,"SPXL":-0.102,"SPY":-0.108,"SSO":-0.106},
{"t":2016.183,"SDS":-0.067,"SH":-0.075,"SPXL":-0.06,"SPY":-0.066,"SSO":-0.064},
{"t":2016.205,"SDS":-0.084,"SH":-0.09,"SPXL":-0.078,"SPY":-0.083,"SSO":-0.081},
{"t":2016.226,"SDS":-0.142,"SH":-0.15,"SPXL":-0.135,"SPY":-0.141,"SSO":-0.139},
{"t":2016.248,"SDS":-0.125,"SH":-0.135,"SPXL":-0.118,"SPY":-0.13,"SSO":-0.122},
{"t":2016.27,"SDS":-0.24,"SH":-0.25,"SPXL":-0.235,"SPY":-0.245,"SSO":-0.238},
{"t":2016.292,"SDS":-0.06,"SH":-0.065,"SPXL":-0.053,"SPY":-0.05,"SSO":-0.056},
{"t":2016.313,"SDS":-0.018,"SH":-0.022,"SPXL":-0.012,"SPY":0.005,"SSO":-0.015},
{"t":2016.335,"SDS":-0.01,"SH":-0.015,"SPXL":-0.004,"SPY":0.0,"SSO":-0.007},
{"t":2016.357,"SDS":-0.24,"SH":-0.255,"SPXL":-0.232,"SPY":-0.245,"SSO":-0.238},
{"t":2016.379,"SDS":-0.216,"SH":-0.23,"SPXL":-0.208,"SPY":-0.22,"SSO":-0.213},
{"t":2016.401,"SDS":-0.166,"SH":-0.175,"SPXL":-0.158,"SPY":-0.168,"SSO":-0.163},
{"t":2016.422,"SDS":-0.2,"SH":-0.25,"SPXL":-0.185,"SPY":-0.205,"SSO":-0.196},
{"t":2016.444,"SDS":-0.16,"SH":-0.185,"SPXL":-0.145,"SPY":-0.17,"SSO":-0.155},
{"t":2016.466,"SDS":-0.2,"SH":-0.215,"SPXL":-0.188,"SPY":-0.205,"SSO":-0.196},
{"t":2016.488,"SDS":-0.43,"SH":-0.438,"SPXL":-0.42,"SPY":-0.43,"SSO":-0.427},
{"t":2016.501,"SDS":0.045,"SH":0.02,"SPXL":0.06,"SPY":0.04,"SSO":0.051},
{"t":2016.514,"SDS":0.062,"SH":0.035,"SPXL":0.075,"SPY":0.06,"SSO":0.068},
{"t":2016.531,"SDS":0.045,"SH":0.02,"SPXL":0.06,"SPY":0.042,"SSO":0.051},
{"t":2016.553,"SDS":0.037,"SH":0.01,"SPXL":0.052,"SPY":0.035,"SSO":0.043},
{"t":2016.575,"SDS":0.03,"SH":0.005,"SPXL":0.045,"SPY":0.028,"SSO":0.035},
{"t":2016.597,"SDS":0.045,"SH":0.025,"SPXL":0.06,"SPY":0.043,"SSO":0.051},
{"t":2016.618,"SDS":0.096,"SH":0.085,"SPXL":0.108,"SPY":0.095,"SSO":0.101},
{"t":2016.64,"SDS":0.097,"SH":0.09,"SPXL":0.11,"SPY":0.096,"SSO":0.101},
{"t":2016.662,"SDS":0.088,"SH":0.082,"SPXL":0.1,"SPY":0.087,"SSO":0.092},
{"t":2016.684,"SDS":0.08,"SH":0.075,"SPXL":0.092,"SPY":0.08,"SSO":0.084},
{"t":2016.705,"SDS":-0.052,"SH":-0.055,"SPXL":-0.042,"SPY":-0.052,"SSO":-0.048},
{"t":2016.727,"SDS":-0.15,"SH":-0.155,"SPXL":-0.14,"SPY":-0.15,"SSO":-0.147},
{"t":2016.749,"SDS":-0.298,"SH":-0.3,"SPXL":-0.29,"SPY":-0.298,"SSO":-0.295},
{"t":2016.771,"SDS":-0.38,"SH":-0.372,"SPXL":-0.375,"SPY":-0.382,"SSO":-0.378},
{"t":2016.792,"SDS":-0.372,"SH":-0.36,"SPXL":-0.366,"SPY":-0.374,"SSO":-0.37},
{"t":2016.814,"SDS":-0.363,"SH":-0.352,"SPXL":-0.357,"SPY":-0.365,"SSO":-0.361},
{"t":2016.836,"SDS":-0.315,"SH":-0.305,"SPXL":-0.308,"SPY":-0.316,"SSO":-0.312},
{"t":2016.858,"SDS":-0.175,"SH":-0.165,"SPXL":-0.168,"SPY":-0.176,"SSO":-0.172},
{"t":2016.88,"SDS":-0.175,"SH":-0.168,"SPXL":-0.17,"SPY":-0.176,"SSO":-0.172},
{"t":2016.901,"SDS":-0.19,"SH":-0.185,"SPXL":-0.185,"SPY":-0.19,"SSO":-0.188},
{"t":2016.923,"SDS":-0.116,"SH":-0.112,"SPXL":-0.11,"SPY":-0.118,"SSO":-0.114},
{"t":2016.945,"SDS":0.024,"SH":0.022,"SPXL":0.035,"SPY":0.02,"SSO":0.026},
{"t":2016.967,"SDS":0.008,"SH":0.005,"SPXL":0.02,"SPY":0.004,"SSO":0.01},
{"t":2016.988,"SDS":-0.017,"SH":-0.02,"SPXL":-0.005,"SPY":-0.02,"SSO":-0.015},
{"t":2017.01,"SDS":0.066,"SH":0.063,"SPXL":0.077,"SPY":0.06,"SSO":0.068},
{"t":2017.032,"SDS":0.066,"SH":0.063,"SPXL":0.077,"SPY":0.055,"SSO":0.068},
{"t":2017.054,"SDS":0.024,"SH":0.02,"SPXL":0.035,"SPY":0.005,"SSO":0.026},
{"t":2017.075,"SDS":-0.017,"SH":-0.02,"SPXL":-0.005,"SPY":-0.05,"SSO":-0.015},
{"t":2017.097,"SDS":-0.075,"SH":-0.078,"SPXL":-0.065,"SPY":-0.1,"SSO":-0.073},
{"t":2017.119,"SDS":-0.132,"SH":-0.135,"SPXL":-0.12,"SPY":-0.16,"SSO":-0.13},
{"t":2017.141,"SDS":-0.083,"SH":-0.085,"SPXL":-0.075,"SPY":-0.11,"SSO":-0.081},
{"t":2017.182,"SDS":-0.16,"SH":-0.165,"SPXL":-0.16,"SPY":-0.185,"SSO":-0.163},
{"t":2017.204,"SDS":-0.093,"SH":-0.1,"SPXL":-0.095,"SPY":-0.12,"SSO":-0.097},
{"t":2017.225,"SDS":-0.115,"SH":-0.125,"SPXL":-0.12,"SPY":-0.145,"SSO":-0.122},
{"t":2017.247,"SDS":-0.075,"SH":-0.085,"SPXL":-0.08,"SPY":-0.1,"SSO":-0.081},
{"t":2017.269,"SDS":-0.155,"SH":-0.165,"SPXL":-0.16,"SPY":-0.18,"SSO":-0.163},
{"t":2017.291,"SDS":-0.035,"SH":-0.045,"SPXL":-0.04,"SPY":-0.06,"SSO":-0.04},
{"t":2017.312,"SDS":-0.1,"SH":-0.11,"SPXL":-0.105,"SPY":-0.125,"SSO":-0.106},
{"t":2017.334,"SDS":-0.14,"SH":-0.15,"SPXL":-0.145,"SPY":-0.17,"SSO":-0.147},
{"t":2017.356,"SDS":-0.24,"SH":-0.25,"SPXL":-0.245,"SPY":-0.262,"SSO":-0.246},
{"t":2017.378,"SDS":-0.1,"SH":-0.11,"SPXL":-0.105,"SPY":-0.125,"SSO":-0.106},
{"t":2017.399,"SDS":-0.008,"SH":-0.02,"SPXL":-0.022,"SPY":-0.04,"SSO":-0.023},
{"t":2017.421,"SDS":-0.025,"SH":-0.03,"SPXL":-0.038,"SPY":-0.06,"SSO":-0.04},
{"t":2017.443,"SDS":-0.045,"SH":-0.05,"SPXL":-0.055,"SPY":-0.075,"SSO":-0.056},
{"t":2017.465,"SDS":-0.12,"SH":-0.11,"SPXL":-0.122,"SPY":-0.14,"SSO":-0.122},
{"t":2017.487,"SDS":-0.185,"SH":-0.18,"SPXL":-0.19,"SPY":-0.205,"SSO":-0.188},
{"t":2017.508,"SDS":-0.235,"SH":-0.23,"SPXL":-0.24,"SPY":-0.26,"SSO":-0.238},
{"t":2017.53,"SDS":-0.17,"SH":-0.165,"SPXL":-0.174,"SPY":-0.2,"SSO":-0.172},
{"t":2017.552,"SDS":-0.153,"SH":-0.145,"SPXL":-0.157,"SPY":-0.18,"SSO":-0.155},
{"t":2017.574,"SDS":-0.203,"SH":-0.2,"SPXL":-0.207,"SPY":-0.23,"SSO":-0.205},
{"t":2017.595,"SDS":-0.203,"SH":-0.2,"SPXL":-0.207,"SPY":-0.228,"SSO":-0.205},
{"t":2017.617,"SDS":-0.252,"SH":-0.25,"SPXL":-0.256,"SPY":-0.278,"SSO":-0.254},
{"t":2017.639,"SDS":-0.186,"SH":-0.185,"SPXL":-0.19,"SPY":-0.215,"SSO":-0.188},
{"t":2017.661,"SDS":-0.178,"SH":-0.178,"SPXL":-0.182,"SPY":-0.205,"SSO":-0.18},
{"t":2017.682,"SDS":-0.17,"SH":-0.17,"SPXL":-0.174,"SPY":-0.195,"SSO":-0.172},
{"t":2017.704,"SDS":-0.128,"SH":-0.128,"SPXL":-0.132,"SPY":-0.15,"SSO":-0.13},
{"t":2017.726,"SDS":-0.038,"SH":-0.04,"SPXL":-0.04,"SPY":-0.055,"SSO":-0.04},
{"t":2017.748,"SDS":0.037,"SH":0.033,"SPXL":0.042,"SPY":0.025,"SSO":0.035},
{"t":2017.769,"SDS":0.028,"SH":0.024,"SPXL":0.034,"SPY":0.015,"SSO":0.026},
{"t":2017.791,"SDS":0.02,"SH":0.016,"SPXL":0.024,"SPY":0.005,"SSO":0.018},
{"t":2017.813,"SDS":-0.005,"SH":-0.009,"SPXL":-0.002,"SPY":-0.02,"SSO":-0.007},
{"t":2017.835,"SDS":-0.062,"SH":-0.066,"SPXL":-0.06,"SPY":-0.075,"SSO":-0.064},
{"t":2017.856,"SDS":-0.095,"SH":-0.1,"SPXL":-0.094,"SPY":-0.11,"SSO":-0.097},
{"t":2017.878,"SDS":-0.16,"SH":-0.165,"SPXL":-0.16,"SPY":-0.18,"SSO":-0.163},
{"t":2017.9,"SDS":-0.21,"SH":-0.215,"SPXL":-0.21,"SPY":-0.235,"SSO":-0.213},
{"t":2017.922,"SDS":-0.25,"SH":-0.256,"SPXL":-0.25,"SPY":-0.28,"SSO":-0.254},
{"t":2017.943,"SDS":-0.2,"SH":-0.207,"SPXL":-0.2,"SPY":-0.23,"SSO":-0.205},
{"t":2017.965,"SDS":-0.19,"SH":-0.198,"SPXL":-0.19,"SPY":-0.225,"SSO":-0.196},
{"t":2017.987,"SDS":-0.265,"SH":-0.273,"SPXL":-0.268,"SPY":-0.285,"SSO":-0.271},
{"t":2018.009,"SDS":-0.168,"SH":-0.175,"SPXL":-0.168,"SPY":-0.19,"SSO":-0.172},
{"t":2018.03,"SDS":-0.118,"SH":-0.125,"SPXL":-0.118,"SPY":-0.13,"SSO":-0.122},
{"t":2018.052,"SDS":-0.16,"SH":-0.165,"SPXL":-0.16,"SPY":-0.17,"SSO":-0.163},
{"t":2018.074,"SDS":-0.26,"SH":-0.248,"SPXL":-0.244,"SPY":-0.25,"SSO":-0.246},
{"t":2018.087,"SDS":0.205,"SH":0.206,"SPXL":0.215,"SPY":0.2,"SSO":0.208},
{"t":2018.096,"SDS":0.575,"SH":0.57,"SPXL":0.598,"SPY":0.55,"SSO":0.571},
{"t":2018.109,"SDS":-0.058,"SH":-0.055,"SPXL":-0.05,"SPY":-0.065,"SSO":-0.056},
{"t":2018.126,"SDS":0.04,"SH":0.05,"SPXL":0.045,"SPY":0.025,"SSO":0.043},
{"t":2018.144,"SDS":0.024,"SH":0.035,"SPXL":0.028,"SPY":0.01,"SSO":0.026},
{"t":2018.161,"SDS":0.098,"SH":0.11,"SPXL":0.103,"SPY":0.085,"SSO":0.101},
{"t":2018.183,"SDS":0.106,"SH":0.118,"SPXL":0.11,"SPY":0.095,"SSO":0.109},
{"t":2018.205,"SDS":0.098,"SH":0.108,"SPXL":0.103,"SPY":0.09,"SSO":0.101},
{"t":2018.226,"SDS":0.165,"SH":0.17,"SPXL":0.168,"SPY":0.16,"SSO":0.167},
{"t":2018.248,"SDS":-0.025,"SH":-0.02,"SPXL":-0.02,"SPY":-0.03,"SSO":-0.023},
{"t":2018.27,"SDS":-0.05,"SH":-0.045,"SPXL":-0.045,"SPY":-0.055,"SSO":-0.048},
{"t":2018.292,"SDS":-0.042,"SH":-0.038,"SPXL":-0.037,"SPY":-0.048,"SSO":-0.04},
{"t":2018.313,"SDS":-0.05,"SH":-0.045,"SPXL":-0.045,"SPY":-0.055,"SSO":-0.048},
{"t":2018.335,"SDS":-0.025,"SH":-0.03,"SPXL":-0.02,"SPY":-0.028,"SSO":-0.023},
{"t":2018.357,"SDS":-0.092,"SH":-0.1,"SPXL":-0.085,"SPY":-0.095,"SSO":-0.089},
{"t":2018.379,"SDS":-0.142,"SH":-0.15,"SPXL":-0.135,"SPY":-0.145,"SSO":-0.139},
{"t":2018.401,"SDS":-0.19,"SH":-0.2,"SPXL":-0.185,"SPY":-0.193,"SSO":-0.188},
{"t":2018.422,"SDS":-0.207,"SH":-0.212,"SPXL":-0.2,"SPY":-0.21,"SSO":-0.205},
{"t":2018.444,"SDS":-0.215,"SH":-0.22,"SPXL":-0.21,"SPY":-0.218,"SSO":-0.213},
{"t":2018.457,"SDS":-0.37,"SH":-0.372,"SPXL":-0.38,"SPY":-0.372,"SSO":-0.37},
{"t":2018.466,"SDS":-0.215,"SH":-0.22,"SPXL":-0.21,"SPY":-0.218,"SSO":-0.213},
{"t":2018.488,"SDS":-0.1,"SH":-0.12,"SPXL":-0.1,"SPY":-0.1,"SSO":-0.097},
{"t":2018.509,"SDS":-0.125,"SH":-0.15,"SPXL":-0.125,"SPY":-0.125,"SSO":-0.122},
{"t":2018.531,"SDS":-0.175,"SH":-0.2,"SPXL":-0.175,"SPY":-0.175,"SSO":-0.172},
{"t":2018.553,"SDS":-0.15,"SH":-0.2,"SPXL":-0.15,"SPY":-0.15,"SSO":-0.147},
{"t":2018.575,"SDS":-0.11,"SH":-0.15,"SPXL":-0.105,"SPY":-0.11,"SSO":-0.106},
{"t":2018.597,"SDS":-0.175,"SH":-0.22,"SPXL":-0.17,"SPY":-0.176,"SSO":-0.172},
{"t":2018.618,"SDS":-0.19,"SH":-0.21,"SPXL":-0.185,"SPY":-0.19,"SSO":-0.188},
{"t":2018.64,"SDS":-0.033,"SH":-0.04,"SPXL":-0.02,"SPY":-0.035,"SSO":-0.031},
{"t":2018.662,"SDS":-0.025,"SH":-0.03,"SPXL":-0.01,"SPY":-0.027,"SSO":-0.023},
{"t":2018.684,"SDS":-0.01,"SH":-0.012,"SPXL":0.008,"SPY":-0.012,"SSO":-0.007},
{"t":2018.705,"SDS":0.04,"SH":0.038,"SPXL":0.055,"SPY":0.038,"SSO":0.043},
{"t":2018.727,"SDS":0.073,"SH":0.07,"SPXL":0.085,"SPY":0.07,"SSO":0.076},
{"t":2018.749,"SDS":0.073,"SH":0.07,"SPXL":0.082,"SPY":0.068,"SSO":0.076},
{"t":2018.762,"SDS":0.27,"SH":0.27,"SPXL":0.285,"SPY":0.265,"SSO":0.274},
{"t":2018.775,"SDS":0.42,"SH":0.418,"SPXL":0.439,"SPY":0.41,"SSO":0.422},
{"t":2018.792,"SDS":0.155,"SH":0.15,"SPXL":0.17,"SPY":0.15,"SSO":0.158},
{"t":2018.805,"SDS":-0.026,"SH":-0.03,"SPXL":-0.015,"SPY":-0.03,"SSO":-0.023},
{"t":2018.819,"SDS":-0.1,"SH":-0.11,"SPXL":-0.09,"SPY":-0.1,"SSO":-0.097},
{"t":2018.836,"SDS":-0.01,"SH":-0.015,"SPXL":0.0,"SPY":-0.012,"SSO":-0.007},
{"t":2018.858,"SDS":0.023,"SH":0.02,"SPXL":0.033,"SPY":0.02,"SSO":0.026},
{"t":2018.88,"SDS":0.032,"SH":0.03,"SPXL":0.042,"SPY":0.028,"SSO":0.035},
{"t":2018.901,"SDS":0.048,"SH":0.045,"SPXL":0.058,"SPY":0.045,"SSO":0.051},
{"t":2018.923,"SDS":-0.026,"SH":-0.03,"SPXL":-0.016,"SPY":-0.03,"SSO":-0.023},
{"t":2018.945,"SDS":0.04,"SH":0.037,"SPXL":0.05,"SPY":0.037,"SSO":0.043},
{"t":2018.967,"SDS":0.088,"SH":0.085,"SPXL":0.1,"SPY":0.085,"SSO":0.092},
{"t":2018.988,"SDS":-0.034,"SH":-0.037,"SPXL":-0.024,"SPY":-0.04,"SSO":-0.031},
{"t":2019.01,"SDS":-0.051,"SH":-0.055,"SPXL":-0.04,"SPY":-0.06,"SSO":-0.048},
{"t":2019.032,"SDS":-0.001,"SH":-0.005,"SPXL":0.01,"SPY":-0.01,"SSO":0.002},
{"t":2019.054,"SDS":0.04,"SH":0.036,"SPXL":0.053,"SPY":0.03,"SSO":0.043},
{"t":2019.075,"SDS":0.032,"SH":0.028,"SPXL":0.048,"SPY":0.022,"SSO":0.035},
{"t":2019.097,"SDS":0.023,"SH":0.02,"SPXL":0.04,"SPY":0.012,"SSO":0.026},
{"t":2019.119,"SDS":0.015,"SH":0.012,"SPXL":0.03,"SPY":0.005,"SSO":0.018},
{"t":2019.141,"SDS":0.007,"SH":0.004,"SPXL":0.022,"SPY":-0.004,"SSO":0.01},
{"t":2019.162,"SDS":-0.01,"SH":-0.014,"SPXL":0.004,"SPY":-0.02,"SSO":-0.007},
{"t":2019.184,"SDS":0.023,"SH":0.02,"SPXL":0.033,"SPY":0.015,"SSO":0.026},
{"t":2019.206,"SDS":-0.018,"SH":-0.022,"SPXL":-0.01,"SPY":-0.025,"SSO":-0.015},
{"t":2019.219,"SDS":-0.273,"SH":-0.275,"SPXL":-0.268,"SPY":-0.275,"SSO":-0.271},
{"t":2019.232,"SDS":-0.026,"SH":-0.02,"SPXL":-0.02,"SPY":-0.03,"SSO":-0.023},
{"t":2019.25,"SDS":-0.084,"SH":-0.065,"SPXL":-0.078,"SPY":-0.09,"SSO":-0.081},
{"t":2019.271,"SDS":-0.125,"SH":-0.105,"SPXL":-0.118,"SPY":-0.13,"SSO":-0.122},
{"t":2019.293,"SDS":-0.043,"SH":-0.035,"SPXL":-0.036,"SPY":-0.05,"SSO":-0.04},
{"t":2019.315,"SDS":-0.084,"SH":-0.07,"SPXL":-0.078,"SPY":-0.09,"SSO":-0.081},
{"t":2019.337,"SDS":-0.15,"SH":-0.135,"SPXL":-0.143,"SPY":-0.157,"SSO":-0.147},
{"t":2019.358,"SDS":-0.175,"SH":-0.165,"SPXL":-0.168,"SPY":-0.182,"SSO":-0.172},
{"t":2019.38,"SDS":-0.125,"SH":-0.12,"SPXL":-0.118,"SPY":-0.13,"SSO":-0.122},
{"t":2019.402,"SDS":-0.15,"SH":-0.145,"SPXL":-0.143,"SPY":-0.16,"SSO":-0.147},
{"t":2019.424,"SDS":-0.084,"SH":-0.08,"SPXL":-0.076,"SPY":-0.09,"SSO":-0.081},
{"t":2019.446,"SDS":-0.01,"SH":-0.008,"SPXL":0.0,"SPY":-0.015,"SSO":-0.007},
{"t":2019.467,"SDS":0.04,"SH":0.04,"SPXL":0.052,"SPY":0.035,"SSO":0.043},
{"t":2019.489,"SDS":0.056,"SH":0.056,"SPXL":0.07,"SPY":0.045,"SSO":0.059},
{"t":2019.511,"SDS":0.056,"SH":0.056,"SPXL":0.072,"SPY":0.04,"SSO":0.059},
{"t":2019.533,"SDS":0.073,"SH":0.072,"SPXL":0.085,"SPY":0.06,"SSO":0.076},
{"t":2019.554,"SDS":0.065,"SH":0.065,"SPXL":0.078,"SPY":0.055,"SSO":0.068},
{"t":2019.576,"SDS":0.155,"SH":0.16,"SPXL":0.168,"SPY":0.15,"SSO":0.158},
{"t":2019.589,"SDS":0.172,"SH":0.172,"SPXL":0.18,"SPY":0.168,"SSO":0.175},
{"t":2019.607,"SDS":0.088,"SH":0.095,"SPXL":0.098,"SPY":0.085,"SSO":0.092},
{"t":2019.624,"SDS":-0.051,"SH":-0.045,"SPXL":-0.045,"SPY":-0.055,"SSO":-0.048},
{"t":2019.641,"SDS":-0.125,"SH":-0.12,"SPXL":-0.118,"SPY":-0.128,"SSO":-0.122},
{"t":2019.663,"SDS":-0.158,"SH":-0.152,"SPXL":-0.15,"SPY":-0.16,"SSO":-0.155},
{"t":2019.685,"SDS":-0.142,"SH":-0.136,"SPXL":-0.135,"SPY":-0.145,"SSO":-0.139},
{"t":2019.707,"SDS":-0.166,"SH":-0.16,"SPXL":-0.158,"SPY":-0.168,"SSO":-0.163},
{"t":2019.728,"SDS":-0.175,"SH":-0.17,"SPXL":-0.168,"SPY":-0.178,"SSO":-0.172},
{"t":2019.75,"SDS":-0.133,"SH":-0.128,"SPXL":-0.126,"SPY":-0.136,"SSO":-0.13},
{"t":2019.772,"SDS":-0.175,"SH":-0.17,"SPXL":-0.168,"SPY":-0.18,"SSO":-0.172},
{"t":2019.794,"SDS":-0.142,"SH":-0.136,"SPXL":-0.135,"SPY":-0.146,"SSO":-0.139},
{"t":2019.815,"SDS":-0.208,"SH":-0.202,"SPXL":-0.2,"SPY":-0.212,"SSO":-0.205},
{"t":2019.852,"SDS":-0.067,"SH":-0.06,"SPXL":-0.058,"SPY":-0.07,"SSO":-0.064},
{"t":2019.874,"SDS":0.016,"SH":0.02,"SPXL":0.025,"SPY":0.012,"SSO":0.019},
{"t":2019.891,"SDS":0.041,"SH":0.045,"SPXL":0.05,"SPY":0.038,"SSO":0.044},
{"t":2019.904,"SDS":0.032,"SH":0.036,"SPXL":0.042,"SPY":0.028,"SSO":0.035},
{"t":2019.926,"SDS":-0.009,"SH":-0.005,"SPXL":0.003,"SPY":-0.012,"SSO":-0.006},
{"t":2019.948,"SDS":0.024,"SH":0.028,"SPXL":0.04,"SPY":0.02,"SSO":0.027},
{"t":2019.97,"SDS":0.057,"SH":0.058,"SPXL":0.068,"SPY":0.055,"SSO":0.06},
{"t":2019.991,"SDS":-0.083,"SH":-0.08,"SPXL":-0.075,"SPY":-0.095,"SSO":-0.08},
{"t":2020.013,"SDS":-0.166,"SH":-0.165,"SPXL":-0.158,"SPY":-0.175,"SSO":-0.163},
{"t":2020.035,"SDS":-0.091,"SH":-0.09,"SPXL":-0.083,"SPY":-0.1,"SSO":-0.088},
{"t":2020.057,"SDS":-0.05,"SH":-0.05,"SPXL":-0.042,"SPY":-0.055,"SSO":-0.047},
{"t":2020.07,"SDS":0.09,"SH":0.09,"SPXL":0.098,"SPY":0.085,"SSO":0.093},
{"t":2020.078,"SDS":-0.05,"SH":-0.05,"SPXL":-0.042,"SPY":-0.06,"SSO":-0.047},
{"t":2020.091,"SDS":-0.124,"SH":-0.122,"SPXL":-0.115,"SPY":-0.13,"SSO":-0.121},
{"t":2020.109,"SDS":0.016,"SH":0.016,"SPXL":0.025,"SPY":0.01,"SSO":0.019},
{"t":2020.126,"SDS":-0.034,"SH":-0.034,"SPXL":-0.025,"SPY":-0.04,"SSO":-0.031},
{"t":2020.148,"SDS":0.42,"SH":0.418,"SPXL":0.425,"SPY":0.41,"SSO":0.423},
{"t":2020.161,"SDS":0.098,"SH":0.095,"SPXL":0.105,"SPY":0.09,"SSO":0.101},
{"t":2020.17,"SDS":-0.215,"SH":-0.22,"SPXL":-0.205,"SPY":-0.22,"SSO":-0.212},
{"t":2020.183,"SDS":-0.35,"SH":-0.36,"SPXL":-0.335,"SPY":-0.34,"SSO":-0.344},
{"t":2020.196,"SDS":-0.4,"SH":-0.43,"SPXL":-0.36,"SPY":-0.365,"SSO":-0.378},
{"t":2020.209,"SDS":-0.56,"SH":-0.605,"SPXL":-0.5,"SPY":-0.52,"SSO":-0.543},
{"t":2020.222,"SDS":-0.445,"SH":-0.47,"SPXL":-0.395,"SPY":-0.405,"SSO":-0.427},
{"t":2020.239,"SDS":-0.43,"SH":-0.45,"SPXL":-0.385,"SPY":-0.392,"SSO":-0.41},
{"t":2020.257,"SDS":-0.435,"SH":-0.452,"SPXL":-0.385,"SPY":-0.395,"SSO":-0.418},
{"t":2020.274,"SDS":-0.44,"SH":-0.455,"SPXL":-0.39,"SPY":-0.398,"SSO":-0.427},
{"t":2020.296,"SDS":-0.432,"SH":-0.448,"SPXL":-0.383,"SPY":-0.392,"SSO":-0.418},
{"t":2020.318,"SDS":-0.42,"SH":-0.435,"SPXL":-0.378,"SPY":-0.385,"SSO":-0.402},
{"t":2020.34,"SDS":-0.425,"SH":-0.44,"SPXL":-0.38,"SPY":-0.39,"SSO":-0.41},
{"t":2020.361,"SDS":-0.43,"SH":-0.445,"SPXL":-0.383,"SPY":-0.39,"SSO":-0.418},
{"t":2020.383,"SDS":-0.445,"SH":-0.46,"SPXL":-0.38,"SPY":-0.388,"SSO":-0.435},
{"t":2020.405,"SDS":-0.45,"SH":-0.47,"SPXL":-0.378,"SPY":-0.385,"SSO":-0.443},
{"t":2020.422,"SDS":-0.47,"SH":-0.505,"SPXL":-0.375,"SPY":-0.39,"SSO":-0.46},
{"t":2020.435,"SDS":-0.15,"SH":-0.17,"SPXL":-0.14,"SPY":-0.145,"SSO":-0.146},
{"t":2020.448,"SDS":-0.142,"SH":-0.16,"SPXL":-0.13,"SPY":-0.14,"SSO":-0.138},
{"t":2020.47,"SDS":-0.183,"SH":-0.195,"SPXL":-0.172,"SPY":-0.18,"SSO":-0.179},
{"t":2020.492,"SDS":-0.134,"SH":-0.14,"SPXL":-0.123,"SPY":-0.133,"SSO":-0.13},
{"t":2020.514,"SDS":-0.117,"SH":-0.12,"SPXL":-0.105,"SPY":-0.115,"SSO":-0.113},
{"t":2020.536,"SDS":-0.108,"SH":-0.112,"SPXL":-0.097,"SPY":-0.107,"SSO":-0.105},
{"t":2020.557,"SDS":-0.075,"SH":-0.08,"SPXL":-0.065,"SPY":-0.075,"SSO":-0.072},
{"t":2020.579,"SDS":-0.116,"SH":-0.12,"SPXL":-0.106,"SPY":-0.115,"SSO":-0.113},
{"t":2020.601,"SDS":-0.174,"SH":-0.178,"SPXL":-0.165,"SPY":-0.175,"SSO":-0.171},
{"t":2020.623,"SDS":-0.133,"SH":-0.135,"SPXL":-0.125,"SPY":-0.135,"SSO":-0.13},
{"t":2020.644,"SDS":-0.133,"SH":-0.135,"SPXL":-0.125,"SPY":-0.138,"SSO":-0.13},
{"t":2020.666,"SDS":-0.275,"SH":-0.275,"SPXL":-0.265,"SPY":-0.285,"SSO":-0.27},
{"t":2020.688,"SDS":-0.298,"SH":-0.3,"SPXL":-0.29,"SPY":-0.305,"SSO":-0.295},
{"t":2020.71,"SDS":-0.2,"SH":-0.198,"SPXL":-0.19,"SPY":-0.205,"SSO":-0.196},
{"t":2020.731,"SDS":-0.133,"SH":-0.135,"SPXL":-0.125,"SPY":-0.138,"SSO":-0.13},
{"t":2020.753,"SDS":-0.207,"SH":-0.21,"SPXL":-0.198,"SPY":-0.212,"SSO":-0.204},
{"t":2020.775,"SDS":-0.157,"SH":-0.158,"SPXL":-0.148,"SPY":-0.16,"SSO":-0.154},
{"t":2020.797,"SDS":-0.174,"SH":-0.175,"SPXL":-0.165,"SPY":-0.178,"SSO":-0.171},
{"t":2020.819,"SDS":-0.133,"SH":-0.135,"SPXL":-0.125,"SPY":-0.136,"SSO":-0.13},
{"t":2020.84,"SDS":-0.05,"SH":-0.052,"SPXL":-0.042,"SPY":-0.052,"SSO":-0.047},
{"t":2020.862,"SDS":-0.05,"SH":-0.055,"SPXL":-0.043,"SPY":-0.05,"SSO":-0.047},
{"t":2020.884,"SDS":-0.05,"SH":-0.055,"SPXL":-0.043,"SPY":-0.05,"SSO":-0.047},
{"t":2020.906,"SDS":-0.025,"SH":-0.03,"SPXL":-0.018,"SPY":-0.026,"SSO":-0.022},
{"t":2020.927,"SDS":-0.001,"SH":-0.006,"SPXL":0.006,"SPY":-0.002,"SSO":0.002},
{"t":2020.949,"SDS":-0.05,"SH":-0.055,"SPXL":-0.043,"SPY":-0.05,"SSO":-0.047},
{"t":2020.971,"SDS":-0.067,"SH":-0.072,"SPXL":-0.06,"SPY":-0.068,"SSO":-0.064},
{"t":2020.993,"SDS":0.016,"SH":0.012,"SPXL":0.023,"SPY":0.015,"SSO":0.019},
{"t":2021.006,"SDS":0.074,"SH":0.07,"SPXL":0.082,"SPY":0.072,"SSO":0.077},
{"t":2021.023,"SDS":0.024,"SH":0.02,"SPXL":0.032,"SPY":0.022,"SSO":0.027},
{"t":2021.041,"SDS":0.032,"SH":0.028,"SPXL":0.04,"SPY":0.03,"SSO":0.035},
{"t":2021.058,"SDS":-0.009,"SH":-0.012,"SPXL":-0.001,"SPY":-0.012,"SSO":-0.006},
{"t":2021.071,"SDS":0.125,"SH":0.115,"SPXL":0.118,"SPY":0.115,"SSO":0.122},
{"t":2021.089,"SDS":-0.157,"SH":-0.16,"SPXL":-0.148,"SPY":-0.165,"SSO":-0.154},
{"t":2021.102,"SDS":-0.133,"SH":-0.136,"SPXL":-0.124,"SPY":-0.14,"SSO":-0.13},
{"t":2021.123,"SDS":-0.157,"SH":-0.16,"SPXL":-0.148,"SPY":-0.165,"SSO":-0.154},
{"t":2021.145,"SDS":-0.182,"SH":-0.185,"SPXL":-0.172,"SPY":-0.192,"SSO":-0.179},
{"t":2021.167,"SDS":-0.133,"SH":-0.136,"SPXL":-0.124,"SPY":-0.14,"SSO":-0.13},
{"t":2021.189,"SDS":-0.166,"SH":-0.17,"SPXL":-0.157,"SPY":-0.175,"SSO":-0.163},
{"t":2021.21,"SDS":-0.116,"SH":-0.12,"SPXL":-0.107,"SPY":-0.122,"SSO":-0.113},
{"t":2021.232,"SDS":-0.124,"SH":-0.128,"SPXL":-0.115,"SPY":-0.13,"SSO":-0.121},
{"t":2021.254,"SDS":-0.091,"SH":-0.095,"SPXL":-0.082,"SPY":-0.097,"SSO":-0.088},
{"t":2021.276,"SDS":-0.116,"SH":-0.12,"SPXL":-0.107,"SPY":-0.122,"SSO":-0.113},
{"t":2021.297,"SDS":-0.149,"SH":-0.152,"SPXL":-0.14,"SPY":-0.155,"SSO":-0.146},
{"t":2021.319,"SDS":-0.1,"SH":-0.103,"SPXL":-0.091,"SPY":-0.106,"SSO":-0.097},
{"t":2021.341,"SDS":-0.045,"SH":-0.048,"SPXL":-0.03,"SPY":-0.045,"SSO":-0.039},
{"t":2021.363,"SDS":-0.07,"SH":-0.075,"SPXL":-0.055,"SPY":-0.07,"SSO":-0.064},
{"t":2021.385,"SDS":0.005,"SH":0.0,"SPXL":0.02,"SPY":0.005,"SSO":0.011},
{"t":2021.406,"SDS":0.021,"SH":0.016,"SPXL":0.035,"SPY":0.02,"SSO":0.027},
{"t":2021.428,"SDS":-0.02,"SH":-0.025,"SPXL":-0.006,"SPY":-0.02,"SSO":-0.014},
{"t":2021.45,"SDS":-0.038,"SH":-0.042,"SPXL":-0.022,"SPY":-0.036,"SSO":-0.031},
{"t":2021.472,"SDS":-0.095,"SH":-0.1,"SPXL":-0.08,"SPY":-0.095,"SSO":-0.088},
{"t":2021.493,"SDS":-0.155,"SH":-0.16,"SPXL":-0.14,"SPY":-0.15,"SSO":-0.146},
{"t":2021.515,"SDS":-0.14,"SH":-0.145,"SPXL":-0.124,"SPY":-0.135,"SSO":-0.13},
{"t":2021.537,"SDS":-0.005,"SH":-0.01,"SPXL":0.008,"SPY":-0.003,"SSO":0.002},
{"t":2021.559,"SDS":-0.012,"SH":-0.02,"SPXL":0.0,"SPY":-0.01,"SSO":-0.006},
{"t":2021.58,"SDS":-0.088,"SH":-0.1,"SPXL":-0.075,"SPY":-0.085,"SSO":-0.08},
{"t":2021.602,"SDS":-0.193,"SH":-0.208,"SPXL":-0.18,"SPY":-0.19,"SSO":-0.187},
{"t":2021.624,"SDS":-0.135,"SH":-0.145,"SPXL":-0.124,"SPY":-0.134,"SSO":-0.13},
{"t":2021.646,"SDS":-0.092,"SH":-0.1,"SPXL":-0.082,"SPY":-0.092,"SSO":-0.088},
{"t":2021.668,"SDS":-0.076,"SH":-0.082,"SPXL":-0.066,"SPY":-0.078,"SSO":-0.072},
{"t":2021.689,"SDS":-0.051,"SH":-0.056,"SPXL":-0.041,"SPY":-0.053,"SSO":-0.047},
{"t":2021.711,"SDS":0.032,"SH":0.03,"SPXL":0.04,"SPY":0.028,"SSO":0.035},
{"t":2021.724,"SDS":0.14,"SH":0.138,"SPXL":0.148,"SPY":0.135,"SSO":0.143},
{"t":2021.742,"SDS":0.148,"SH":0.146,"SPXL":0.155,"SPY":0.145,"SSO":0.151},
{"t":2021.755,"SDS":0.098,"SH":0.095,"SPXL":0.105,"SPY":0.095,"SSO":0.101},
{"t":2021.776,"SDS":-0.025,"SH":-0.03,"SPXL":-0.018,"SPY":-0.028,"SSO":-0.022},
{"t":2021.798,"SDS":0.074,"SH":0.085,"SPXL":0.08,"SPY":0.07,"SSO":0.077},
{"t":2021.82,"SDS":0.098,"SH":0.11,"SPXL":0.104,"SPY":0.093,"SSO":0.101},
{"t":2021.842,"SDS":0.115,"SH":0.125,"SPXL":0.12,"SPY":0.11,"SSO":0.118},
{"t":2021.864,"SDS":0.107,"SH":0.118,"SPXL":0.112,"SPY":0.1,"SSO":0.11},
{"t":2021.885,"SDS":0.082,"SH":0.09,"SPXL":0.088,"SPY":0.075,"SSO":0.085},
{"t":2021.907,"SDS":-0.017,"SH":-0.01,"SPXL":-0.01,"SPY":-0.025,"SSO":-0.014},
{"t":2021.929,"SDS":-0.05,"SH":-0.045,"SPXL":-0.043,"SPY":-0.06,"SSO":-0.047},
{"t":2021.951,"SDS":-0.133,"SH":-0.128,"SPXL":-0.126,"SPY":-0.145,"SSO":-0.13},
{"t":2021.972,"SDS":-0.182,"SH":-0.177,"SPXL":-0.175,"SPY":-0.19,"SSO":-0.179},
{"t":2021.994,"SDS":-0.091,"SH":-0.086,"SPXL":-0.084,"SPY":-0.1,"SSO":-0.088},
{"t":2022.016,"SDS":-0.05,"SH":-0.045,"SPXL":-0.043,"SPY":-0.058,"SSO":-0.047},
{"t":2022.038,"SDS":-0.1,"SH":-0.095,"SPXL":-0.093,"SPY":-0.11,"SSO":-0.097},
{"t":2022.059,"SDS":0.024,"SH":0.03,"SPXL":0.033,"SPY":0.018,"SSO":0.027},
{"t":2022.081,"SDS":0.065,"SH":0.07,"SPXL":0.075,"SPY":0.058,"SSO":0.068},
{"t":2022.103,"SDS":0.016,"SH":0.022,"SPXL":0.025,"SPY":0.01,"SSO":0.019},
{"t":2022.125,"SDS":0.049,"SH":0.055,"SPXL":0.058,"SPY":0.043,"SSO":0.052},
{"t":2022.147,"SDS":0.098,"SH":0.104,"SPXL":0.106,"SPY":0.093,"SSO":0.101},
{"t":2022.168,"SDS":0.115,"SH":0.121,"SPXL":0.122,"SPY":0.11,"SSO":0.118},
{"t":2022.19,"SDS":0.14,"SH":0.146,"SPXL":0.146,"SPY":0.135,"SSO":0.143},
{"t":2022.212,"SDS":0.199,"SH":0.194,"SPXL":0.196,"SPY":0.188,"SSO":0.196},
{"t":2022.234,"SDS":0.162,"SH":0.158,"SPXL":0.16,"SPY":0.152,"SSO":0.159},
{"t":2022.255,"SDS":0.166,"SH":0.16,"SPXL":0.164,"SPY":0.156,"SSO":0.163},
{"t":2022.277,"SDS":0.137,"SH":0.13,"SPXL":0.136,"SPY":0.127,"SSO":0.134},
{"t":2022.299,"SDS":0.104,"SH":0.098,"SPXL":0.104,"SPY":0.094,"SSO":0.101},
{"t":2022.321,"SDS":0.038,"SH":0.032,"SPXL":0.038,"SPY":0.028,"SSO":0.035},
{"t":2022.342,"SDS":-0.062,"SH":-0.068,"SPXL":-0.06,"SPY":-0.072,"SSO":-0.064},
{"t":2022.364,"SDS":-0.128,"SH":-0.134,"SPXL":-0.126,"SPY":-0.14,"SSO":-0.13},
{"t":2022.386,"SDS":-0.07,"SH":-0.076,"SPXL":-0.068,"SPY":-0.08,"SSO":-0.072},
{"t":2022.408,"SDS":-0.119,"SH":-0.125,"SPXL":-0.117,"SPY":-0.13,"SSO":-0.121},
{"t":2022.429,"SDS":-0.07,"SH":-0.076,"SPXL":-0.068,"SPY":-0.08,"SSO":-0.072},
{"t":2022.451,"SDS":-0.095,"SH":-0.1,"SPXL":-0.093,"SPY":-0.105,"SSO":-0.097},
{"t":2022.476,"SDS":-0.062,"SH":-0.067,"SPXL":-0.06,"SPY":-0.075,"SSO":-0.064},
{"t":2022.498,"SDS":-0.054,"SH":-0.059,"SPXL":-0.052,"SPY":-0.068,"SSO":-0.056},
{"t":2022.519,"SDS":-0.046,"SH":-0.051,"SPXL":-0.044,"SPY":-0.06,"SSO":-0.048},
{"t":2022.541,"SDS":-0.062,"SH":-0.067,"SPXL":-0.06,"SPY":-0.075,"SSO":-0.064},
{"t":2022.563,"SDS":-0.038,"SH":-0.043,"SPXL":-0.036,"SPY":-0.05,"SSO":-0.04},
{"t":2022.585,"SDS":0.082,"SH":0.08,"SPXL":0.095,"SPY":0.075,"SSO":0.084},
{"t":2022.606,"SDS":0.066,"SH":0.064,"SPXL":0.08,"SPY":0.06,"SSO":0.068},
{"t":2022.628,"SDS":0.132,"SH":0.13,"SPXL":0.15,"SPY":0.125,"SSO":0.134},
{"t":2022.65,"SDS":0.156,"SH":0.154,"SPXL":0.167,"SPY":0.15,"SSO":0.158},
{"t":2022.672,"SDS":0.14,"SH":0.138,"SPXL":0.15,"SPY":0.13,"SSO":0.142},
{"t":2022.693,"SDS":-0.017,"SH":-0.02,"SPXL":-0.01,"SPY":-0.027,"SSO":-0.015},
{"t":2022.715,"SDS":-0.025,"SH":-0.028,"SPXL":-0.018,"SPY":-0.035,"SSO":-0.023},
{"t":2022.737,"SDS":0.049,"SH":0.055,"SPXL":0.056,"SPY":0.042,"SSO":0.051},
{"t":2022.759,"SDS":-0.009,"SH":-0.004,"SPXL":-0.002,"SPY":-0.015,"SSO":-0.007},
{"t":2022.781,"SDS":0.107,"SH":0.112,"SPXL":0.112,"SPY":0.1,"SSO":0.109},
{"t":2022.802,"SDS":0.005,"SH":0.004,"SPXL":0.006,"SPY":-0.008,"SSO":0.002},
{"t":2022.824,"SDS":0.04,"SH":0.038,"SPXL":0.038,"SPY":0.025,"SSO":0.035},
{"t":2022.846,"SDS":0.014,"SH":0.012,"SPXL":0.013,"SPY":0.002,"SSO":0.01},
{"t":2022.868,"SDS":-0.036,"SH":-0.038,"SPXL":-0.037,"SPY":-0.048,"SSO":-0.04},
{"t":2022.889,"SDS":-0.027,"SH":-0.029,"SPXL":-0.028,"SPY":-0.04,"SSO":-0.031},
{"t":2022.911,"SDS":-0.036,"SH":-0.038,"SPXL":-0.037,"SPY":-0.05,"SSO":-0.04},
{"t":2022.933,"SDS":0.013,"SH":0.012,"SPXL":0.014,"SPY":0.002,"SSO":0.01},
{"t":2022.955,"SDS":-0.004,"SH":-0.005,"SPXL":-0.003,"SPY":-0.015,"SSO":-0.007},
{"t":2022.977,"SDS":0.013,"SH":0.012,"SPXL":0.014,"SPY":0.002,"SSO":0.01},
{"t":2022.999,"SDS":-0.028,"SH":-0.029,"SPXL":-0.027,"SPY":-0.045,"SSO":-0.031},
{"t":2023.02,"SDS":-0.14,"SH":-0.14,"SPXL":-0.138,"SPY":-0.145,"SSO":-0.143},
{"t":2023.042,"SDS":-0.028,"SH":-0.02,"SPXL":-0.027,"SPY":-0.04,"SSO":-0.031},
{"t":2023.064,"SDS":-0.02,"SH":-0.015,"SPXL":-0.019,"SPY":-0.032,"SSO":-0.023},
{"t":2023.086,"SDS":-0.094,"SH":-0.09,"SPXL":-0.093,"SPY":-0.106,"SSO":-0.097},
{"t":2023.107,"SDS":0.038,"SH":0.04,"SPXL":0.04,"SPY":0.026,"SSO":0.035},
{"t":2023.129,"SDS":0.021,"SH":0.022,"SPXL":0.023,"SPY":0.01,"SSO":0.018},
{"t":2023.151,"SDS":0.029,"SH":0.03,"SPXL":0.031,"SPY":0.018,"SSO":0.026},
{"t":2023.173,"SDS":-0.02,"SH":-0.02,"SPXL":-0.018,"SPY":-0.032,"SSO":-0.023},
{"t":2023.195,"SDS":0.029,"SH":0.03,"SPXL":0.031,"SPY":0.018,"SSO":0.026},
{"t":2023.216,"SDS":-0.127,"SH":-0.128,"SPXL":-0.125,"SPY":-0.135,"SSO":-0.13},
{"t":2023.238,"SDS":-0.045,"SH":-0.046,"SPXL":-0.043,"SPY":-0.058,"SSO":-0.048},
{"t":2023.26,"SDS":0.013,"SH":0.012,"SPXL":0.016,"SPY":0.0,"SSO":0.01},
{"t":2023.282,"SDS":-0.07,"SH":-0.071,"SPXL":-0.068,"SPY":-0.083,"SSO":-0.073},
{"t":2023.303,"SDS":-0.061,"SH":-0.062,"SPXL":-0.058,"SPY":-0.075,"SSO":-0.064},
{"t":2023.325,"SDS":0.021,"SH":0.02,"SPXL":0.024,"SPY":0.008,"SSO":0.018},
{"t":2023.347,"SDS":-0.012,"SH":-0.013,"SPXL":-0.01,"SPY":-0.025,"SSO":-0.015},
{"t":2023.369,"SDS":-0.061,"SH":-0.062,"SPXL":-0.058,"SPY":-0.074,"SSO":-0.064},
{"t":2023.39,"SDS":-0.012,"SH":-0.013,"SPXL":-0.01,"SPY":-0.025,"SSO":-0.015},
{"t":2023.412,"SDS":0.001,"SH":0.0,"SPXL":0.003,"SPY":-0.012,"SSO":-0.002},
{"t":2023.434,"SDS":-0.111,"SH":-0.112,"SPXL":-0.108,"SPY":-0.122,"SSO":-0.114},
{"t":2023.456,"SDS":0.082,"SH":0.08,"SPXL":0.095,"SPY":0.075,"SSO":0.084},
{"t":2023.478,"SDS":0.09,"SH":0.088,"SPXL":0.105,"SPY":0.083,"SSO":0.092},
{"t":2023.499,"SDS":0.132,"SH":0.13,"SPXL":0.142,"SPY":0.126,"SSO":0.134},
{"t":2023.521,"SDS":0.132,"SH":0.13,"SPXL":0.14,"SPY":0.126,"SSO":0.134},
{"t":2023.543,"SDS":0.14,"SH":0.138,"SPXL":0.148,"SPY":0.134,"SSO":0.142},
{"t":2023.565,"SDS":0.132,"SH":0.13,"SPXL":0.14,"SPY":0.126,"SSO":0.134},
{"t":2023.586,"SDS":0.0,"SH":-0.01,"SPXL":0.008,"SPY":-0.006,"SSO":0.002},
{"t":2023.608,"SDS":0.189,"SH":0.186,"SPXL":0.198,"SPY":0.183,"SSO":0.191},
{"t":2023.63,"SDS":0.198,"SH":0.195,"SPXL":0.205,"SPY":0.19,"SSO":0.2},
{"t":2023.652,"SDS":0.016,"SH":0.014,"SPXL":0.024,"SPY":0.008,"SSO":0.018},
{"t":2023.673,"SDS":0.107,"SH":0.105,"SPXL":0.115,"SPY":0.1,"SSO":0.109},
{"t":2023.695,"SDS":0.082,"SH":0.08,"SPXL":0.09,"SPY":0.075,"SSO":0.084},
{"t":2023.717,"SDS":0.123,"SH":0.12,"SPXL":0.13,"SPY":0.115,"SSO":0.125},
{"t":2023.739,"SDS":0.024,"SH":0.022,"SPXL":0.032,"SPY":0.015,"SSO":0.026},
{"t":2023.761,"SDS":-0.042,"SH":-0.044,"SPXL":-0.035,"SPY":-0.058,"SSO":-0.04},
{"t":2023.782,"SDS":0.033,"SH":0.031,"SPXL":0.04,"SPY":0.025,"SSO":0.035},
{"t":2023.804,"SDS":0.0,"SH":-0.002,"SPXL":0.008,"SPY":-0.008,"SSO":0.002},
{"t":2023.826,"SDS":0.074,"SH":0.072,"SPXL":0.085,"SPY":0.068,"SSO":0.076},
{"t":2023.848,"SDS":0.206,"SH":0.21,"SPXL":0.218,"SPY":0.2,"SSO":0.208},
{"t":2023.869,"SDS":0.214,"SH":0.218,"SPXL":0.222,"SPY":0.208,"SSO":0.216},
{"t":2023.891,"SDS":0.165,"SH":0.17,"SPXL":0.178,"SPY":0.16,"SSO":0.167},
{"t":2023.913,"SDS":0.156,"SH":0.165,"SPXL":0.17,"SPY":0.15,"SSO":0.158},
{"t":2023.935,"SDS":0.214,"SH":0.22,"SPXL":0.222,"SPY":0.208,"SSO":0.216},
{"t":2023.956,"SDS":0.156,"SH":0.165,"SPXL":0.168,"SPY":0.15,"SSO":0.158},
{"t":2023.978,"SDS":0.115,"SH":0.13,"SPXL":0.125,"SPY":0.11,"SSO":0.117},
{"t":2024.0,"SDS":0.198,"SH":0.22,"SPXL":0.205,"SPY":0.193,"SSO":0.2},
{"t":2024.013,"SDS":0.194,"SH":0.286,"SPXL":0.2,"SPY":0.19,"SSO":0.196},
{"t":2024.03,"SDS":0.18,"SH":0.27,"SPXL":0.186,"SPY":0.176,"SSO":0.183},
{"t":2024.048,"SDS":0.09,"SH":0.18,"SPXL":0.096,"SPY":0.085,"SSO":0.092},
{"t":2024.065,"SDS":-0.05,"SH":0.06,"SPXL":-0.044,"SPY":-0.055,"SSO":-0.048},
{"t":2024.087,"SDS":-0.175,"SH":-0.03,"SPXL":-0.168,"SPY":-0.178,"SSO":-0.172},
{"t":2024.109,"SDS":-0.066,"SH":0.03,"SPXL":-0.06,"SPY":-0.07,"SSO":-0.064},
{"t":2024.131,"SDS":-0.058,"SH":0.0,"SPXL":-0.052,"SPY":-0.062,"SSO":-0.056},
{"t":2024.152,"SDS":-0.075,"SH":-0.02,"SPXL":-0.069,"SPY":-0.079,"SSO":-0.073},
{"t":2024.174,"SDS":-0.058,"SH":0.0,"SPXL":-0.052,"SPY":-0.062,"SSO":-0.056},
{"t":2024.196,"SDS":-0.108,"SH":-0.04,"SPXL":-0.102,"SPY":-0.112,"SSO":-0.106},
{"t":2024.218,"SDS":-0.058,"SH":-0.02,"SPXL":-0.052,"SPY":-0.062,"SSO":-0.056},
{"t":2024.239,"SDS":-0.083,"SH":-0.06,"SPXL":-0.077,"SPY":-0.087,"SSO":-0.081},
{"t":2024.261,"SDS":-0.091,"SH":-0.08,"SPXL":-0.085,"SPY":-0.095,"SSO":-0.089},
{"t":2024.283,"SDS":-0.149,"SH":-0.11,"SPXL":-0.143,"SPY":-0.153,"SSO":-0.147},
{"t":2024.305,"SDS":-0.075,"SH":-0.05,"SPXL":-0.069,"SPY":-0.079,"SSO":-0.073},
{"t":2024.327,"SDS":-0.017,"SH":0.0,"SPXL":-0.011,"SPY":-0.021,"SSO":-0.015},
{"t":2024.348,"SDS":0.057,"SH":0.075,"SPXL":0.063,"SPY":0.053,"SSO":0.059},
{"t":2024.37,"SDS":0.066,"SH":0.09,"SPXL":0.072,"SPY":0.062,"SSO":0.068},
{"t":2024.392,"SDS":0.074,"SH":0.1,"SPXL":0.08,"SPY":0.07,"SSO":0.076},
{"t":2024.414,"SDS":0.057,"SH":0.09,"SPXL":0.063,"SPY":0.053,"SSO":0.059},
{"t":2024.435,"SDS":0.074,"SH":0.11,"SPXL":0.08,"SPY":0.07,"SSO":0.076},
{"t":2024.457,"SDS":0.082,"SH":0.12,"SPXL":0.088,"SPY":0.078,"SSO":0.084},
{"t":2024.479,"SDS":0.107,"SH":0.13,"SPXL":0.113,"SPY":0.103,"SSO":0.109},
{"t":2024.501,"SDS":0.173,"SH":0.19,"SPXL":0.18,"SPY":0.168,"SSO":0.175},
{"t":2024.514,"SDS":0.235,"SH":0.242,"SPXL":0.238,"SPY":0.23,"SSO":0.237},
{"t":2024.527,"SDS":0.024,"SH":0.03,"SPXL":0.04,"SPY":0.018,"SSO":0.026},
{"t":2024.544,"SDS":0.123,"SH":0.125,"SPXL":0.135,"SPY":0.118,"SSO":0.125},
{"t":2024.566,"SDS":0.09,"SH":0.09,"SPXL":0.1,"SPY":0.085,"SSO":0.092},
{"t":2024.579,"SDS":-0.085,"SH":-0.08,"SPXL":-0.07,"SPY":-0.095,"SSO":-0.089},
{"t":2024.596,"SDS":0.226,"SH":0.225,"SPXL":0.238,"SPY":0.22,"SSO":0.229},
{"t":2024.614,"SDS":0.074,"SH":0.07,"SPXL":0.085,"SPY":0.068,"SSO":0.076},
{"t":2024.631,"SDS":0.049,"SH":0.045,"SPXL":0.06,"SPY":0.043,"SSO":0.051},
{"t":2024.653,"SDS":0.041,"SH":0.037,"SPXL":0.052,"SPY":0.035,"SSO":0.043},
{"t":2024.675,"SDS":0.033,"SH":0.028,"SPXL":0.045,"SPY":0.027,"SSO":0.035},
{"t":2024.697,"SDS":0.016,"SH":0.01,"SPXL":0.03,"SPY":0.01,"SSO":0.018},
{"t":2024.718,"SDS":0.006,"SH":0.0,"SPXL":0.02,"SPY":0.002,"SSO":0.01},
{"t":2024.74,"SDS":-0.015,"SH":-0.02,"SPXL":0.002,"SPY":-0.012,"SSO":-0.007},
{"t":2024.762,"SDS":-0.008,"SH":-0.01,"SPXL":0.01,"SPY":-0.003,"SSO":0.002},
{"t":2024.784,"SDS":-0.015,"SH":-0.015,"SPXL":0.003,"SPY":-0.012,"SSO":-0.007},
{"t":2024.805,"SDS":-0.065,"SH":-0.06,"SPXL":-0.05,"SPY":-0.06,"SSO":-0.056},
{"t":2024.827,"SDS":-0.228,"SH":-0.222,"SPXL":-0.215,"SPY":-0.224,"SSO":-0.221},
{"t":2024.84,"SDS":-0.178,"SH":-0.17,"SPXL":-0.168,"SPY":-0.176,"SSO":-0.172},
{"t":2024.858,"SDS":-0.06,"SH":-0.05,"SPXL":-0.052,"SPY":-0.06,"SSO":-0.056},
{"t":2024.875,"SDS":0.0,"SH":0.01,"SPXL":0.006,"SPY":-0.003,"SSO":0.002},
{"t":2024.893,"SDS":0.008,"SH":0.02,"SPXL":0.014,"SPY":0.005,"SSO":0.01},
{"t":2024.914,"SDS":0.057,"SH":0.07,"SPXL":0.063,"SPY":0.054,"SSO":0.059},
{"t":2024.936,"SDS":0.082,"SH":0.09,"SPXL":0.088,"SPY":0.078,"SSO":0.084},
{"t":2024.958,"SDS":0.123,"SH":0.135,"SPXL":0.128,"SPY":0.12,"SSO":0.125},
{"t":2024.98,"SDS":0.132,"SH":0.142,"SPXL":0.136,"SPY":0.128,"SSO":0.134},
{"t":2025.001,"SDS":0.123,"SH":0.138,"SPXL":0.128,"SPY":0.12,"SSO":0.125}
  ]},
  "transform": [{"fold": ["SDS", "SH", "SPXL", "SPY", "SSO"], "as": ["ticker", "ar"]}],
  "mark": {"type": "line", "strokeWidth": 2.1, "clip": true},
  "encoding": {
    "x": {
      "field": "t", "type": "quantitative",
      "scale": {"domain": [2008.463, 2025.785], "nice": false, "zero": false},
      "axis": {"values": [2010, 2012, 2014, 2016, 2018, 2020, 2022, 2024], "format": "d", "title": "Date", "titlePadding": 6}
    },
    "y": {
      "field": "ar", "type": "quantitative",
      "scale": {"domain": [-0.664, 0.658], "nice": false, "zero": false},
      "axis": {"values": [-0.6, -0.4, -0.2, 0, 0.2, 0.4, 0.6], "format": ".1f", "title": "AR(1) Coefficient", "titlePadding": 10}
    },
    "color": {
      "field": "ticker", "type": "nominal",
      "scale": {"domain": ["SDS", "SH", "SPXL", "SPY", "SSO"], "range": ["#1f77b4", "#ff7f0e", "#2ca02c", "#d62728", "#9467bd"]},
      "legend": {"title": null, "orient": "top-right"}
    }
  }
}
